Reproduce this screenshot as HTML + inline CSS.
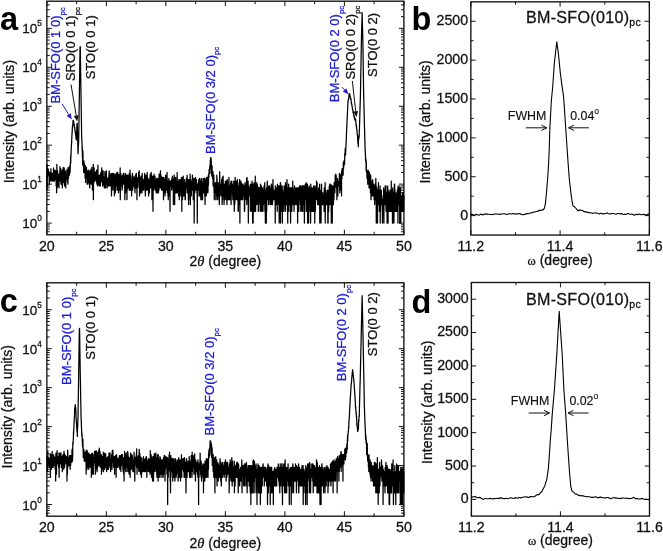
<!DOCTYPE html>
<html lang="en">
<head>
<meta charset="utf-8">
<title>XRD figure</title>
<style>
html,body{margin:0;padding:0;background:#fff;}
body{width:663px;height:551px;overflow:hidden;font-family:"Liberation Sans", sans-serif;}
svg{display:block;will-change:transform;}
</style>
</head>
<body>
<svg width="663" height="551" viewBox="0 0 663 551" role="img" aria-label="XRD theta-2theta scans and rocking curves">
<rect width="663" height="551" fill="#fff"/>
<rect x="46.85" y="1.2" width="357.05" height="233.55" fill="none" stroke="#111" stroke-width="1.35"/>
<path d="M46.85 234.75L46.85 229.75M46.85 1.2L46.85 6.2M76.6 234.75L76.6 231.75M76.6 1.2L76.6 4.2M106.36 234.75L106.36 229.75M106.36 1.2L106.36 6.2M136.11 234.75L136.11 231.75M136.11 1.2L136.11 4.2M165.87 234.75L165.87 229.75M165.87 1.2L165.87 6.2M195.62 234.75L195.62 231.75M195.62 1.2L195.62 4.2M225.37 234.75L225.37 229.75M225.37 1.2L225.37 6.2M255.13 234.75L255.13 231.75M255.13 1.2L255.13 4.2M284.88 234.75L284.88 229.75M284.88 1.2L284.88 6.2M314.64 234.75L314.64 231.75M314.64 1.2L314.64 4.2M344.39 234.75L344.39 229.75M344.39 1.2L344.39 6.2M374.15 234.75L374.15 231.75M374.15 1.2L374.15 4.2M403.9 234.75L403.9 229.75M403.9 1.2L403.9 6.2M46.85 231.74L49.75 231.74M403.9 231.74L401 231.74M46.85 229.13L49.75 229.13M403.9 229.13L401 229.13M46.85 226.87L49.75 226.87M403.9 226.87L401 226.87M46.85 224.88L49.75 224.88M403.9 224.88L401 224.88M46.85 223.1L51.85 223.1M403.9 223.1L398.9 223.1M46.85 211.37L49.75 211.37M403.9 211.37L401 211.37M46.85 204.52L49.75 204.52M403.9 204.52L401 204.52M46.85 199.65L49.75 199.65M403.9 199.65L401 199.65M46.85 195.88L49.75 195.88M403.9 195.88L401 195.88M46.85 192.79L49.75 192.79M403.9 192.79L401 192.79M46.85 190.18L49.75 190.18M403.9 190.18L401 190.18M46.85 187.92L49.75 187.92M403.9 187.92L401 187.92M46.85 185.93L49.75 185.93M403.9 185.93L401 185.93M46.85 184.15L51.85 184.15M403.9 184.15L398.9 184.15M46.85 172.42L49.75 172.42M403.9 172.42L401 172.42M46.85 165.57L49.75 165.57M403.9 165.57L401 165.57M46.85 160.7L49.75 160.7M403.9 160.7L401 160.7M46.85 156.93L49.75 156.93M403.9 156.93L401 156.93M46.85 153.84L49.75 153.84M403.9 153.84L401 153.84M46.85 151.23L49.75 151.23M403.9 151.23L401 151.23M46.85 148.97L49.75 148.97M403.9 148.97L401 148.97M46.85 146.98L49.75 146.98M403.9 146.98L401 146.98M46.85 145.2L51.85 145.2M403.9 145.2L398.9 145.2M46.85 133.47L49.75 133.47M403.9 133.47L401 133.47M46.85 126.62L49.75 126.62M403.9 126.62L401 126.62M46.85 121.75L49.75 121.75M403.9 121.75L401 121.75M46.85 117.98L49.75 117.98M403.9 117.98L401 117.98M46.85 114.89L49.75 114.89M403.9 114.89L401 114.89M46.85 112.28L49.75 112.28M403.9 112.28L401 112.28M46.85 110.02L49.75 110.02M403.9 110.02L401 110.02M46.85 108.03L49.75 108.03M403.9 108.03L401 108.03M46.85 106.25L51.85 106.25M403.9 106.25L398.9 106.25M46.85 94.52L49.75 94.52M403.9 94.52L401 94.52M46.85 87.67L49.75 87.67M403.9 87.67L401 87.67M46.85 82.8L49.75 82.8M403.9 82.8L401 82.8M46.85 79.03L49.75 79.03M403.9 79.03L401 79.03M46.85 75.94L49.75 75.94M403.9 75.94L401 75.94M46.85 73.33L49.75 73.33M403.9 73.33L401 73.33M46.85 71.07L49.75 71.07M403.9 71.07L401 71.07M46.85 69.08L49.75 69.08M403.9 69.08L401 69.08M46.85 67.3L51.85 67.3M403.9 67.3L398.9 67.3M46.85 55.57L49.75 55.57M403.9 55.57L401 55.57M46.85 48.72L49.75 48.72M403.9 48.72L401 48.72M46.85 43.85L49.75 43.85M403.9 43.85L401 43.85M46.85 40.08L49.75 40.08M403.9 40.08L401 40.08M46.85 36.99L49.75 36.99M403.9 36.99L401 36.99M46.85 34.38L49.75 34.38M403.9 34.38L401 34.38M46.85 32.12L49.75 32.12M403.9 32.12L401 32.12M46.85 30.13L49.75 30.13M403.9 30.13L401 30.13M46.85 28.35L51.85 28.35M403.9 28.35L398.9 28.35M46.85 16.62L49.75 16.62M403.9 16.62L401 16.62M46.85 9.77L49.75 9.77M403.9 9.77L401 9.77M46.85 4.9L49.75 4.9M403.9 4.9L401 4.9" stroke="#111" stroke-width="1.0" fill="none"/>
<text x="46.85" y="250.85" font-family='"Liberation Sans", sans-serif' font-size="14.2" text-anchor="middle" fill="#111" font-weight="normal" stroke="#111" stroke-width="0.28">20</text>
<text x="106.36" y="250.85" font-family='"Liberation Sans", sans-serif' font-size="14.2" text-anchor="middle" fill="#111" font-weight="normal" stroke="#111" stroke-width="0.28">25</text>
<text x="165.87" y="250.85" font-family='"Liberation Sans", sans-serif' font-size="14.2" text-anchor="middle" fill="#111" font-weight="normal" stroke="#111" stroke-width="0.28">30</text>
<text x="225.37" y="250.85" font-family='"Liberation Sans", sans-serif' font-size="14.2" text-anchor="middle" fill="#111" font-weight="normal" stroke="#111" stroke-width="0.28">35</text>
<text x="284.88" y="250.85" font-family='"Liberation Sans", sans-serif' font-size="14.2" text-anchor="middle" fill="#111" font-weight="normal" stroke="#111" stroke-width="0.28">40</text>
<text x="344.39" y="250.85" font-family='"Liberation Sans", sans-serif' font-size="14.2" text-anchor="middle" fill="#111" font-weight="normal" stroke="#111" stroke-width="0.28">45</text>
<text x="403.9" y="250.85" font-family='"Liberation Sans", sans-serif' font-size="14.2" text-anchor="middle" fill="#111" font-weight="normal" stroke="#111" stroke-width="0.28">50</text>
<text x="41.9" y="227.9" font-family='"Liberation Sans", sans-serif' font-size="13.5" text-anchor="end" fill="#111" stroke="#111" stroke-width="0.28">10<tspan font-size="8.2" dy="-7.2">0</tspan></text>
<text x="41.9" y="188.95" font-family='"Liberation Sans", sans-serif' font-size="13.5" text-anchor="end" fill="#111" stroke="#111" stroke-width="0.28">10<tspan font-size="8.2" dy="-7.2">1</tspan></text>
<text x="41.9" y="150" font-family='"Liberation Sans", sans-serif' font-size="13.5" text-anchor="end" fill="#111" stroke="#111" stroke-width="0.28">10<tspan font-size="8.2" dy="-7.2">2</tspan></text>
<text x="41.9" y="111.05" font-family='"Liberation Sans", sans-serif' font-size="13.5" text-anchor="end" fill="#111" stroke="#111" stroke-width="0.28">10<tspan font-size="8.2" dy="-7.2">3</tspan></text>
<text x="41.9" y="72.1" font-family='"Liberation Sans", sans-serif' font-size="13.5" text-anchor="end" fill="#111" stroke="#111" stroke-width="0.28">10<tspan font-size="8.2" dy="-7.2">4</tspan></text>
<text x="41.9" y="33.15" font-family='"Liberation Sans", sans-serif' font-size="13.5" text-anchor="end" fill="#111" stroke="#111" stroke-width="0.28">10<tspan font-size="8.2" dy="-7.2">5</tspan></text>
<text x="13.6" y="121.6" font-family='"Liberation Sans", sans-serif' font-size="14.05" text-anchor="middle" fill="#111" font-weight="normal" transform="rotate(-90 13.6 121.6)" stroke="#111" stroke-width="0.28">Intensity (arb. units)</text>
<text x="225.38" y="266.35" font-family='"Liberation Sans", sans-serif' font-size="14" text-anchor="middle" fill="#111" stroke="#111" stroke-width="0.28">2<tspan font-family='"Liberation Serif", "DejaVu Serif", serif' font-style="italic" font-size="14.5">θ</tspan> (degree)</text>
<path d="M46.85 172.42L46.97 190.18L47.09 164.47L47.21 185.93L47.33 173.29L47.45 176.2L47.56 170.06L47.68 176.2L47.8 174.21L47.92 175.17L48.04 168.65L48.16 174.21L48.28 169.34L48.4 174.21L48.52 170.81L48.64 174.21L48.75 172.42L48.87 171.6L48.99 174.21L49.11 175.17L49.23 184.15L49.35 184.15L49.47 172.42L49.59 176.2L49.71 178.46L49.83 179.71L49.94 176.2L50.06 181.07L50.18 173.29L50.3 178.46L50.42 176.2L50.54 173.29L50.66 175.17L50.78 177.29L50.9 168.65L51.02 181.07L51.13 172.42L51.25 172.42L51.37 173.29L51.49 173.29L51.61 177.29L51.73 174.21L51.85 176.2L51.97 179.71L52.09 173.29L52.21 177.29L52.32 181.07L52.44 176.2L52.56 176.2L52.68 181.07L52.8 174.21L52.92 173.29L53.04 175.17L53.16 176.2L53.28 176.2L53.4 175.17L53.51 167.99L53.63 173.29L53.75 181.07L53.87 170.06L53.99 181.07L54.11 179.71L54.23 172.42L54.35 181.07L54.47 177.29L54.59 178.46L54.71 175.17L54.82 172.42L54.94 179.71L55.06 170.06L55.18 174.21L55.3 171.6L55.42 170.81L55.54 173.29L55.66 173.29L55.78 172.42L55.9 172.42L56.01 171.6L56.13 185.93L56.25 179.71L56.37 173.29L56.49 174.21L56.61 192.79L56.73 176.2L56.85 164.47L56.97 174.21L57.09 178.46L57.2 187.92L57.32 170.06L57.44 170.06L57.56 171.6L57.68 177.29L57.8 184.15L57.92 174.21L58.04 174.21L58.16 175.17L58.28 185.93L58.39 179.71L58.51 176.2L58.63 179.71L58.75 176.2L58.87 174.21L58.99 187.92L59.11 174.21L59.23 176.2L59.35 179.71L59.47 179.71L59.58 174.21L59.7 181.07L59.82 177.29L59.94 166.73L60.06 174.21L60.18 174.21L60.3 181.07L60.42 172.42L60.54 173.29L60.66 170.81L60.77 168.65L60.89 172.42L61.01 184.15L61.13 177.29L61.25 184.15L61.37 174.21L61.49 175.17L61.61 175.17L61.73 177.29L61.85 177.29L61.97 170.81L62.08 173.29L62.2 174.21L62.32 187.92L62.44 178.46L62.56 175.17L62.68 169.34L62.8 171.6L62.92 174.21L63.04 174.21L63.16 173.29L63.27 167.35L63.39 179.71L63.51 182.54L63.63 181.07L63.75 175.17L63.87 176.2L63.99 171.6L64.11 171.6L64.23 167.99L64.35 176.2L64.46 185.93L64.58 184.15L64.7 171.6L64.82 175.17L64.94 179.71L65.06 171.6L65.18 179.71L65.3 178.46L65.42 171.6L65.54 170.81L65.65 174.21L65.77 187.92L65.89 177.29L66.01 182.54L66.13 175.17L66.25 176.2L66.37 178.46L66.49 175.17L66.61 174.21L66.73 176.2L66.84 179.71L66.96 174.21L67.08 169.34L67.2 170.06L67.32 174.21L67.44 177.29L67.56 174.21L67.68 179.71L67.8 182.54L67.92 184.15L68.03 173.29L68.15 169.34L68.27 167.35L68.39 170.06L68.51 178.46L68.63 167.99L68.75 172.42L68.87 170.06L68.99 171.6L69.11 173.29L69.23 168.65L69.34 170.06L69.46 175.17L69.58 170.81L69.7 166.14L69.82 165.57L69.94 170.81L70.06 172.42L70.18 168.65L70.3 163.95L70.42 164.47L70.53 159.87L70.65 156.59L70.77 162.96L70.89 153.84L71.01 155.94L71.13 151.48L71.25 149.19L71.37 146.07L71.49 143.59L71.61 142.98L71.72 139.03L71.84 138.23L71.96 133.39L72.08 133.99L72.2 130.82L72.32 128.59L72.44 126.56L72.56 125.95L72.68 125.58L72.8 125.63L72.91 123.3L73.03 120.61L73.15 120.33L73.27 121.5L73.39 120.68L73.51 120.92L73.63 121.09L73.75 124.9L73.87 123.96L73.99 123.3L74.1 125.84L74.22 124.6L74.34 127.72L74.46 126.34L74.58 127.07L74.7 127.31L74.82 129.7L74.94 130.04L75.06 129.77L75.18 131.94L75.29 132.81L75.41 132.73L75.53 133.56L75.65 132.89L75.77 136.03L75.89 135.93L76.01 139.03L76.13 136.32L76.25 138.91L76.37 140L76.49 137.14L76.6 133.06L76.72 130.82L76.84 125.74L76.96 124.75L77.08 124.2L77.2 123.16L77.32 126.12L77.44 130.89L77.56 133.9L77.68 135.35L77.79 143.28L77.91 147.95L78.03 153.84L78.15 151.48L78.27 147.75L78.39 144.21L78.51 144.7L78.63 141.56L78.75 137.25L78.87 127.97L78.98 121.88L79.1 112.28L79.22 104.39L79.34 96.36L79.46 88.13L79.58 79.32L79.7 71.11L79.82 63.02L79.94 54.79L80.06 46.63L80.17 46.68L80.29 46.63L80.41 54.78L80.53 63.04L80.65 71.28L80.77 79.47L80.89 87.89L81.01 95.4L81.13 102.42L81.25 109.5L81.36 117.87L81.48 124.8L81.6 134.52L81.72 138.34L81.84 140.76L81.96 141.84L82.08 145.72L82.2 151.23L82.32 147.95L82.44 157.97L82.56 156.26L82.67 165.01L82.79 155.94L82.91 150.99L83.03 159.09L83.15 163.45L83.27 166.14L83.39 161.13L83.51 165.01L83.63 172.42L83.75 165.01L83.86 166.14L83.98 161.13L84.1 169.34L84.22 168.65L84.34 163.95L84.46 170.06L84.58 172.42L84.7 166.14L84.82 170.06L84.94 174.21L85.05 167.35L85.17 178.46L85.29 170.81L85.41 165.57L85.53 170.06L85.65 182.54L85.77 176.2L85.89 177.29L86.01 168.65L86.13 176.2L86.24 170.81L86.36 170.06L86.48 167.35L86.6 177.29L86.72 173.29L86.84 170.06L86.96 172.42L87.08 174.21L87.2 184.15L87.32 173.29L87.43 170.81L87.55 179.71L87.67 177.29L87.79 175.17L87.91 182.54L88.03 184.15L88.15 174.21L88.27 174.21L88.39 174.21L88.51 170.06L88.62 175.17L88.74 181.07L88.86 176.2L88.98 181.07L89.1 182.54L89.22 172.42L89.34 179.71L89.46 175.17L89.58 181.07L89.7 187.92L89.82 178.46L89.93 170.81L90.05 177.29L90.17 176.2L90.29 175.17L90.41 179.71L90.53 173.29L90.65 182.54L90.77 175.17L90.89 169.34L91.01 178.46L91.12 184.15L91.24 181.07L91.36 177.29L91.48 178.46L91.6 173.29L91.72 178.46L91.84 167.35L91.96 179.71L92.08 175.17L92.2 174.21L92.31 181.07L92.43 190.18L92.55 176.2L92.67 175.17L92.79 173.29L92.91 177.29L93.03 175.17L93.15 179.71L93.27 164.47L93.39 199.65L93.5 184.15L93.62 182.54L93.74 177.29L93.86 182.54L93.98 175.17L94.1 167.99L94.22 181.07L94.34 179.71L94.46 179.71L94.58 175.17L94.69 179.71L94.81 176.2L94.93 181.07L95.05 179.71L95.17 172.42L95.29 179.71L95.41 172.42L95.53 178.46L95.65 179.71L95.77 175.17L95.88 174.21L96 171.6L96.12 176.2L96.24 178.46L96.36 181.07L96.48 171.6L96.6 170.06L96.72 181.07L96.84 184.15L96.96 179.71L97.08 173.29L97.19 172.42L97.31 178.46L97.43 175.17L97.55 176.2L97.67 185.93L97.79 174.21L97.91 165.01L98.03 182.54L98.15 175.17L98.27 177.29L98.38 181.07L98.5 184.15L98.62 179.71L98.74 176.2L98.86 179.71L98.98 177.29L99.1 182.54L99.22 185.93L99.34 178.46L99.46 175.17L99.57 181.07L99.69 181.07L99.81 178.46L99.93 179.71L100.05 178.46L100.17 182.54L100.29 185.93L100.41 181.07L100.53 174.21L100.65 177.29L100.76 179.71L100.88 172.42L101 177.29L101.12 176.2L101.24 176.2L101.36 181.07L101.48 174.21L101.6 177.29L101.72 167.99L101.84 176.2L101.95 172.42L102.07 182.54L102.19 179.71L102.31 174.21L102.43 181.07L102.55 185.93L102.67 170.81L102.79 185.93L102.91 185.93L103.03 181.07L103.14 170.81L103.26 184.15L103.38 176.2L103.5 178.46L103.62 179.71L103.74 177.29L103.86 177.29L103.98 182.54L104.1 177.29L104.22 178.46L104.34 187.92L104.45 187.92L104.57 187.92L104.69 185.93L104.81 181.07L104.93 171.6L105.05 175.17L105.17 178.46L105.29 181.07L105.41 174.21L105.53 176.2L105.64 187.92L105.76 182.54L105.88 184.15L106 174.21L106.12 179.71L106.24 172.42L106.36 170.81L106.48 181.07L106.6 176.2L106.72 182.54L106.83 177.29L106.95 179.71L107.07 181.07L107.19 187.92L107.31 178.46L107.43 184.15L107.55 185.93L107.67 179.71L107.79 179.71L107.91 184.15L108.02 181.07L108.14 185.93L108.26 178.46L108.38 178.46L108.5 178.46L108.62 179.71L108.74 177.29L108.86 177.29L108.98 173.29L109.1 174.21L109.21 170.81L109.33 185.93L109.45 182.54L109.57 175.17L109.69 178.46L109.81 177.29L109.93 181.07L110.05 184.15L110.17 175.17L110.29 182.54L110.4 179.71L110.52 185.93L110.64 181.07L110.76 175.17L110.88 174.21L111 173.29L111.12 179.71L111.24 176.2L111.36 176.2L111.48 195.88L111.6 182.54L111.71 175.17L111.83 176.2L111.95 182.54L112.07 178.46L112.19 181.07L112.31 173.29L112.43 179.71L112.55 177.29L112.67 187.92L112.79 175.17L112.9 190.18L113.02 178.46L113.14 176.2L113.26 175.17L113.38 184.15L113.5 173.29L113.62 184.15L113.74 181.07L113.86 177.29L113.98 182.54L114.09 181.07L114.21 185.93L114.33 187.92L114.45 195.88L114.57 185.93L114.69 177.29L114.81 174.21L114.93 185.93L115.05 185.93L115.17 181.07L115.28 192.79L115.4 185.93L115.52 174.21L115.64 174.21L115.76 190.18L115.88 182.54L116 176.2L116.12 185.93L116.24 177.29L116.36 178.46L116.47 184.15L116.59 176.2L116.71 185.93L116.83 172.42L116.95 184.15L117.07 178.46L117.19 185.93L117.31 175.17L117.43 190.18L117.55 179.71L117.66 172.42L117.78 174.21L117.9 178.46L118.02 179.71L118.14 177.29L118.26 174.21L118.38 179.71L118.5 192.79L118.62 176.2L118.74 178.46L118.86 177.29L118.97 182.54L119.09 175.17L119.21 184.15L119.33 184.15L119.45 182.54L119.57 184.15L119.69 190.18L119.81 174.21L119.93 182.54L120.05 178.46L120.16 167.99L120.28 199.65L120.4 181.07L120.52 184.15L120.64 181.07L120.76 173.29L120.88 177.29L121 181.07L121.12 181.07L121.24 181.07L121.35 185.93L121.47 179.71L121.59 176.2L121.71 181.07L121.83 181.07L121.95 184.15L122.07 190.18L122.19 179.71L122.31 187.92L122.43 187.92L122.54 176.2L122.66 175.17L122.78 177.29L122.9 179.71L123.02 178.46L123.14 182.54L123.26 184.15L123.38 173.29L123.5 182.54L123.62 173.29L123.73 177.29L123.85 182.54L123.97 184.15L124.09 184.15L124.21 178.46L124.33 178.46L124.45 179.71L124.57 181.07L124.69 178.46L124.81 199.65L124.92 185.93L125.04 175.17L125.16 182.54L125.28 173.29L125.4 181.07L125.52 192.79L125.64 187.92L125.76 174.21L125.88 187.92L126 184.15L126.12 177.29L126.23 187.92L126.35 182.54L126.47 179.71L126.59 178.46L126.71 187.92L126.83 184.15L126.95 199.65L127.07 175.17L127.19 190.18L127.31 176.2L127.42 187.92L127.54 179.71L127.66 177.29L127.78 177.29L127.9 178.46L128.02 175.17L128.14 182.54L128.26 178.46L128.38 184.15L128.5 187.92L128.61 182.54L128.73 187.92L128.85 182.54L128.97 177.29L129.09 178.46L129.21 190.18L129.33 173.29L129.45 184.15L129.57 184.15L129.69 187.92L129.8 178.46L129.92 181.07L130.04 170.06L130.16 184.15L130.28 190.18L130.4 175.17L130.52 181.07L130.64 181.07L130.76 176.2L130.88 184.15L130.99 190.18L131.11 184.15L131.23 182.54L131.35 179.71L131.47 182.54L131.59 195.88L131.71 187.92L131.83 184.15L131.95 187.92L132.07 182.54L132.18 184.15L132.3 177.29L132.42 173.29L132.54 177.29L132.66 190.18L132.78 185.93L132.9 178.46L133.02 184.15L133.14 179.71L133.26 184.15L133.38 178.46L133.49 185.93L133.61 177.29L133.73 184.15L133.85 179.71L133.97 182.54L134.09 176.2L134.21 181.07L134.33 177.29L134.45 187.92L134.57 178.46L134.68 181.07L134.8 184.15L134.92 185.93L135.04 192.79L135.16 179.71L135.28 181.07L135.4 181.07L135.52 181.07L135.64 184.15L135.76 174.21L135.87 187.92L135.99 184.15L136.11 174.21L136.23 184.15L136.35 173.29L136.47 185.93L136.59 181.07L136.71 177.29L136.83 178.46L136.95 199.65L137.06 182.54L137.18 182.54L137.3 187.92L137.42 182.54L137.54 185.93L137.66 178.46L137.78 182.54L137.9 181.07L138.02 182.54L138.14 177.29L138.25 181.07L138.37 177.29L138.49 177.29L138.61 172.42L138.73 178.46L138.85 182.54L138.97 175.17L139.09 187.92L139.21 170.81L139.33 185.93L139.44 175.17L139.56 195.88L139.68 185.93L139.8 177.29L139.92 179.71L140.04 185.93L140.16 179.71L140.28 182.54L140.4 192.79L140.52 177.29L140.64 179.71L140.75 184.15L140.87 192.79L140.99 192.79L141.11 176.2L141.23 179.71L141.35 185.93L141.47 182.54L141.59 190.18L141.71 179.71L141.83 179.71L141.94 192.79L142.06 184.15L142.18 173.29L142.3 184.15L142.42 179.71L142.54 178.46L142.66 182.54L142.78 187.92L142.9 182.54L143.02 184.15L143.13 179.71L143.25 190.18L143.37 182.54L143.49 185.93L143.61 182.54L143.73 190.18L143.85 179.71L143.97 182.54L144.09 185.93L144.21 184.15L144.32 179.71L144.44 185.93L144.56 174.21L144.68 173.29L144.8 184.15L144.92 179.71L145.04 185.93L145.16 190.18L145.28 192.79L145.4 195.88L145.51 185.93L145.63 187.92L145.75 184.15L145.87 184.15L145.99 175.17L146.11 190.18L146.23 187.92L146.35 190.18L146.47 184.15L146.59 190.18L146.7 176.2L146.82 175.17L146.94 184.15L147.06 179.71L147.18 172.42L147.3 179.71L147.42 190.18L147.54 178.46L147.66 182.54L147.78 190.18L147.9 181.07L148.01 178.46L148.13 185.93L148.25 182.54L148.37 187.92L148.49 184.15L148.61 195.88L148.73 192.79L148.85 179.71L148.97 185.93L149.09 190.18L149.2 185.93L149.32 182.54L149.44 192.79L149.56 182.54L149.68 179.71L149.8 181.07L149.92 177.29L150.04 185.93L150.16 177.29L150.28 174.21L150.39 182.54L150.51 187.92L150.63 181.07L150.75 187.92L150.87 178.46L150.99 185.93L151.11 174.21L151.23 172.42L151.35 175.17L151.47 177.29L151.58 187.92L151.7 176.2L151.82 185.93L151.94 199.65L152.06 181.07L152.18 185.93L152.3 182.54L152.42 187.92L152.54 182.54L152.66 182.54L152.77 176.2L152.89 185.93L153.01 211.37L153.13 179.71L153.25 182.54L153.37 179.71L153.49 178.46L153.61 190.18L153.73 176.2L153.85 187.92L153.97 181.07L154.08 174.21L154.2 184.15L154.32 181.07L154.44 182.54L154.56 182.54L154.68 187.92L154.8 184.15L154.92 185.93L155.04 176.2L155.16 185.93L155.27 190.18L155.39 179.71L155.51 187.92L155.63 185.93L155.75 185.93L155.87 181.07L155.99 190.18L156.11 190.18L156.23 192.79L156.35 190.18L156.46 190.18L156.58 181.07L156.7 178.46L156.82 187.92L156.94 192.79L157.06 187.92L157.18 181.07L157.3 187.92L157.42 190.18L157.54 192.79L157.65 179.71L157.77 178.46L157.89 190.18L158.01 184.15L158.13 182.54L158.25 190.18L158.37 184.15L158.49 192.79L158.61 182.54L158.73 190.18L158.84 185.93L158.96 190.18L159.08 174.21L159.2 181.07L159.32 182.54L159.44 187.92L159.56 179.71L159.68 187.92L159.8 185.93L159.92 178.46L160.03 176.2L160.15 177.29L160.27 172.42L160.39 187.92L160.51 170.81L160.63 184.15L160.75 184.15L160.87 181.07L160.99 181.07L161.11 184.15L161.23 184.15L161.34 179.71L161.46 176.2L161.58 190.18L161.7 178.46L161.82 178.46L161.94 190.18L162.06 179.71L162.18 182.54L162.3 184.15L162.42 190.18L162.53 179.71L162.65 181.07L162.77 177.29L162.89 187.92L163.01 181.07L163.13 179.71L163.25 190.18L163.37 187.92L163.49 199.65L163.61 187.92L163.72 192.79L163.84 184.15L163.96 177.29L164.08 181.07L164.2 184.15L164.32 179.71L164.44 187.92L164.56 179.71L164.68 185.93L164.8 187.92L164.91 187.92L165.03 195.88L165.15 184.15L165.27 184.15L165.39 185.93L165.51 192.79L165.63 175.17L165.75 185.93L165.87 181.07L165.99 179.71L166.1 179.71L166.22 182.54L166.34 179.71L166.46 187.92L166.58 181.07L166.7 190.18L166.82 178.46L166.94 182.54L167.06 172.42L167.18 181.07L167.29 185.93L167.41 192.79L167.53 190.18L167.65 181.07L167.77 187.92L167.89 192.79L168.01 195.88L168.13 181.07L168.25 199.65L168.37 192.79L168.49 181.07L168.6 185.93L168.72 192.79L168.84 178.46L168.96 181.07L169.08 181.07L169.2 184.15L169.32 195.88L169.44 195.88L169.56 181.07L169.68 185.93L169.79 185.93L169.91 184.15L170.03 211.37L170.15 185.93L170.27 181.07L170.39 182.54L170.51 185.93L170.63 185.93L170.75 181.07L170.87 185.93L170.98 182.54L171.1 184.15L171.22 185.93L171.34 184.15L171.46 181.07L171.58 179.71L171.7 190.18L171.82 187.92L171.94 178.46L172.06 184.15L172.17 181.07L172.29 181.07L172.41 176.2L172.53 178.46L172.65 184.15L172.77 182.54L172.89 179.71L173.01 187.92L173.13 179.71L173.25 179.71L173.36 204.52L173.48 185.93L173.6 187.92L173.72 181.07L173.84 187.92L173.96 190.18L174.08 176.2L174.2 175.17L174.32 190.18L174.44 187.92L174.55 177.29L174.67 204.52L174.79 182.54L174.91 190.18L175.03 179.71L175.15 192.79L175.27 179.71L175.39 179.71L175.51 184.15L175.63 177.29L175.75 177.29L175.86 190.18L175.98 192.79L176.1 181.07L176.22 185.93L176.34 190.18L176.46 185.93L176.58 190.18L176.7 184.15L176.82 185.93L176.94 181.07L177.05 192.79L177.17 172.42L177.29 192.79L177.41 192.79L177.53 181.07L177.65 190.18L177.77 182.54L177.89 190.18L178.01 190.18L178.13 190.18L178.24 190.18L178.36 187.92L178.48 184.15L178.6 195.88L178.72 185.93L178.84 179.71L178.96 192.79L179.08 182.54L179.2 190.18L179.32 199.65L179.43 190.18L179.55 187.92L179.67 185.93L179.79 185.93L179.91 179.71L180.03 184.15L180.15 181.07L180.27 182.54L180.39 192.79L180.51 190.18L180.62 185.93L180.74 179.71L180.86 195.88L180.98 185.93L181.1 192.79L181.22 187.92L181.34 182.54L181.46 177.29L181.58 185.93L181.7 187.92L181.81 211.37L181.93 181.07L182.05 184.15L182.17 187.92L182.29 181.07L182.41 179.71L182.53 199.65L182.65 179.71L182.77 177.29L182.89 181.07L183.01 185.93L183.12 181.07L183.24 176.2L183.36 187.92L183.48 195.88L183.6 195.88L183.72 190.18L183.84 190.18L183.96 187.92L184.08 184.15L184.2 195.88L184.31 187.92L184.43 182.54L184.55 179.71L184.67 184.15L184.79 182.54L184.91 195.88L185.03 192.79L185.15 199.65L185.27 199.65L185.39 199.65L185.5 190.18L185.62 192.79L185.74 185.93L185.86 184.15L185.98 185.93L186.1 182.54L186.22 185.93L186.34 178.46L186.46 187.92L186.58 179.71L186.69 181.07L186.81 181.07L186.93 182.54L187.05 182.54L187.17 175.17L187.29 192.79L187.41 182.54L187.53 179.71L187.65 179.71L187.77 192.79L187.88 192.79L188 182.54L188.12 187.92L188.24 185.93L188.36 199.65L188.48 187.92L188.6 204.52L188.72 179.71L188.84 179.71L188.96 192.79L189.07 179.71L189.19 192.79L189.31 185.93L189.43 184.15L189.55 187.92L189.67 187.92L189.79 185.93L189.91 184.15L190.03 199.65L190.15 174.21L190.27 184.15L190.38 204.52L190.5 179.71L190.62 190.18L190.74 187.92L190.86 185.93L190.98 185.93L191.1 185.93L191.22 187.92L191.34 195.88L191.46 185.93L191.57 181.07L191.69 182.54L191.81 181.07L191.93 190.18L192.05 179.71L192.17 184.15L192.29 182.54L192.41 175.17L192.53 177.29L192.65 184.15L192.76 181.07L192.88 187.92L193 187.92L193.12 187.92L193.24 199.65L193.36 184.15L193.48 195.88L193.6 199.65L193.72 178.46L193.84 178.46L193.95 182.54L194.07 182.54L194.19 223.1L194.31 187.92L194.43 192.79L194.55 179.71L194.67 192.79L194.79 179.71L194.91 192.79L195.03 178.46L195.14 184.15L195.26 190.18L195.38 185.93L195.5 177.29L195.62 184.15L195.74 181.07L195.86 185.93L195.98 190.18L196.1 182.54L196.22 182.54L196.33 181.07L196.45 179.71L196.57 187.92L196.69 184.15L196.81 190.18L196.93 187.92L197.05 192.79L197.17 195.88L197.29 223.1L197.41 192.79L197.53 184.15L197.64 184.15L197.76 187.92L197.88 190.18L198 190.18L198.12 187.92L198.24 187.92L198.36 182.54L198.48 185.93L198.6 187.92L198.72 179.71L198.83 190.18L198.95 184.15L199.07 195.88L199.19 192.79L199.31 190.18L199.43 187.92L199.55 178.46L199.67 181.07L199.79 182.54L199.91 187.92L200.02 195.88L200.14 192.79L200.26 184.15L200.38 187.92L200.5 181.07L200.62 190.18L200.74 181.07L200.86 199.65L200.98 184.15L201.1 187.92L201.21 179.71L201.33 178.46L201.45 187.92L201.57 199.65L201.69 185.93L201.81 190.18L201.93 184.15L202.05 195.88L202.17 184.15L202.29 185.93L202.4 182.54L202.52 199.65L202.64 192.79L202.76 185.93L202.88 185.93L203 181.07L203.12 178.46L203.24 182.54L203.36 185.93L203.48 185.93L203.59 192.79L203.71 190.18L203.83 187.92L203.95 179.71L204.07 187.92L204.19 187.92L204.31 178.46L204.43 181.07L204.55 178.46L204.67 190.18L204.79 195.88L204.9 178.46L205.02 204.52L205.14 187.92L205.26 185.93L205.38 179.71L205.5 187.92L205.62 192.79L205.74 187.92L205.86 187.92L205.98 195.88L206.09 185.93L206.21 195.88L206.33 195.88L206.45 192.79L206.57 177.29L206.69 184.15L206.81 192.79L206.93 187.92L207.05 182.54L207.17 187.92L207.28 185.93L207.4 178.46L207.52 181.07L207.64 177.29L207.76 185.93L207.88 192.79L208 190.18L208.12 177.29L208.24 185.93L208.36 175.17L208.47 184.15L208.59 178.46L208.71 176.2L208.83 173.29L208.95 177.29L209.07 172.42L209.19 169.34L209.31 169.34L209.43 170.06L209.55 169.34L209.66 167.99L209.78 167.35L209.9 165.57L210.02 173.29L210.14 167.35L210.26 160.7L210.38 162.48L210.5 159.87L210.62 158.34L210.74 157.97L210.85 157.27L210.97 164.47L211.09 162.48L211.21 159.48L211.33 165.57L211.45 168.65L211.57 168.65L211.69 174.21L211.81 176.2L211.93 173.29L212.05 165.57L212.16 168.65L212.28 175.17L212.4 173.29L212.52 178.46L212.64 174.21L212.76 176.2L212.88 173.29L213 171.6L213.12 185.93L213.24 179.71L213.35 185.93L213.47 179.71L213.59 179.71L213.71 185.93L213.83 175.17L213.95 184.15L214.07 192.79L214.19 184.15L214.31 199.65L214.43 184.15L214.54 185.93L214.66 190.18L214.78 185.93L214.9 184.15L215.02 187.92L215.14 192.79L215.26 184.15L215.38 182.54L215.5 185.93L215.62 192.79L215.73 190.18L215.85 199.65L215.97 185.93L216.09 185.93L216.21 184.15L216.33 184.15L216.45 195.88L216.57 195.88L216.69 187.92L216.81 175.17L216.92 185.93L217.04 178.46L217.16 185.93L217.28 192.79L217.4 199.65L217.52 182.54L217.64 182.54L217.76 182.54L217.88 195.88L218 185.93L218.11 182.54L218.23 187.92L218.35 185.93L218.47 187.92L218.59 192.79L218.71 190.18L218.83 195.88L218.95 199.65L219.07 185.93L219.19 190.18L219.31 204.52L219.42 190.18L219.54 185.93L219.66 171.6L219.78 184.15L219.9 184.15L220.02 185.93L220.14 185.93L220.26 195.88L220.38 185.93L220.5 185.93L220.61 187.92L220.73 187.92L220.85 184.15L220.97 184.15L221.09 185.93L221.21 187.92L221.33 185.93L221.45 187.92L221.57 179.71L221.69 195.88L221.8 184.15L221.92 195.88L222.04 184.15L222.16 204.52L222.28 185.93L222.4 177.29L222.52 185.93L222.64 199.65L222.76 192.79L222.88 195.88L222.99 185.93L223.11 176.2L223.23 182.54L223.35 192.79L223.47 184.15L223.59 195.88L223.71 192.79L223.83 190.18L223.95 184.15L224.07 204.52L224.18 190.18L224.3 187.92L224.42 195.88L224.54 190.18L224.66 184.15L224.78 192.79L224.9 192.79L225.02 195.88L225.14 185.93L225.26 199.65L225.38 181.07L225.49 184.15L225.61 192.79L225.73 185.93L225.85 184.15L225.97 187.92L226.09 187.92L226.21 185.93L226.33 181.07L226.45 185.93L226.57 195.88L226.68 199.65L226.8 192.79L226.92 204.52L227.04 199.65L227.16 185.93L227.28 179.71L227.4 195.88L227.52 181.07L227.64 195.88L227.76 190.18L227.87 192.79L227.99 199.65L228.11 190.18L228.23 185.93L228.35 199.65L228.47 192.79L228.59 195.88L228.71 192.79L228.83 199.65L228.95 177.29L229.06 199.65L229.18 184.15L229.3 195.88L229.42 195.88L229.54 185.93L229.66 187.92L229.78 190.18L229.9 187.92L230.02 199.65L230.14 185.93L230.25 195.88L230.37 185.93L230.49 187.92L230.61 187.92L230.73 182.54L230.85 199.65L230.97 181.07L231.09 204.52L231.21 195.88L231.33 190.18L231.44 190.18L231.56 192.79L231.68 185.93L231.8 181.07L231.92 187.92L232.04 192.79L232.16 185.93L232.28 190.18L232.4 184.15L232.52 190.18L232.64 195.88L232.75 187.92L232.87 199.65L232.99 185.93L233.11 185.93L233.23 187.92L233.35 192.79L233.47 192.79L233.59 190.18L233.71 184.15L233.83 181.07L233.94 204.52L234.06 199.65L234.18 192.79L234.3 211.37L234.42 192.79L234.54 185.93L234.66 190.18L234.78 204.52L234.9 187.92L235.02 199.65L235.13 177.29L235.25 195.88L235.37 190.18L235.49 195.88L235.61 181.07L235.73 199.65L235.85 190.18L235.97 187.92L236.09 187.92L236.21 192.79L236.32 181.07L236.44 187.92L236.56 192.79L236.68 199.65L236.8 192.79L236.92 190.18L237.04 195.88L237.16 181.07L237.28 192.79L237.4 179.71L237.51 199.65L237.63 190.18L237.75 195.88L237.87 182.54L237.99 187.92L238.11 211.37L238.23 185.93L238.35 211.37L238.47 187.92L238.59 187.92L238.7 185.93L238.82 192.79L238.94 190.18L239.06 192.79L239.18 192.79L239.3 204.52L239.42 192.79L239.54 190.18L239.66 179.71L239.78 190.18L239.9 223.1L240.01 187.92L240.13 184.15L240.25 184.15L240.37 187.92L240.49 185.93L240.61 192.79L240.73 190.18L240.85 181.07L240.97 192.79L241.09 195.88L241.2 199.65L241.32 182.54L241.44 185.93L241.56 195.88L241.68 192.79L241.8 199.65L241.92 187.92L242.04 192.79L242.16 190.18L242.28 187.92L242.39 199.65L242.51 199.65L242.63 184.15L242.75 199.65L242.87 190.18L242.99 184.15L243.11 195.88L243.23 187.92L243.35 192.79L243.47 190.18L243.58 192.79L243.7 192.79L243.82 187.92L243.94 185.93L244.06 185.93L244.18 195.88L244.3 192.79L244.42 211.37L244.54 192.79L244.66 211.37L244.77 192.79L244.89 184.15L245.01 182.54L245.13 190.18L245.25 184.15L245.37 184.15L245.49 199.65L245.61 190.18L245.73 190.18L245.85 195.88L245.96 199.65L246.08 192.79L246.2 199.65L246.32 199.65L246.44 199.65L246.56 178.46L246.68 184.15L246.8 204.52L246.92 190.18L247.04 177.29L247.16 184.15L247.27 199.65L247.39 192.79L247.51 195.88L247.63 195.88L247.75 187.92L247.87 195.88L247.99 195.88L248.11 181.07L248.23 199.65L248.35 223.1L248.46 185.93L248.58 192.79L248.7 211.37L248.82 187.92L248.94 187.92L249.06 190.18L249.18 192.79L249.3 192.79L249.42 187.92L249.54 195.88L249.65 187.92L249.77 187.92L249.89 192.79L250.01 185.93L250.13 185.93L250.25 195.88L250.37 184.15L250.49 185.93L250.61 195.88L250.73 211.37L250.84 190.18L250.96 192.79L251.08 211.37L251.2 184.15L251.32 192.79L251.44 192.79L251.56 192.79L251.68 195.88L251.8 187.92L251.92 204.52L252.03 181.07L252.15 199.65L252.27 199.65L252.39 211.37L252.51 190.18L252.63 223.1L252.75 199.65L252.87 187.92L252.99 184.15L253.11 223.1L253.22 204.52L253.34 192.79L253.46 195.88L253.58 199.65L253.7 190.18L253.82 211.37L253.94 199.65L254.06 187.92L254.18 182.54L254.3 187.92L254.42 211.37L254.53 195.88L254.65 199.65L254.77 211.37L254.89 192.79L255.01 199.65L255.13 204.52L255.25 176.2L255.37 195.88L255.49 184.15L255.61 211.37L255.72 190.18L255.84 199.65L255.96 190.18L256.08 190.18L256.2 204.52L256.32 192.79L256.44 187.92L256.56 199.65L256.68 204.52L256.8 182.54L256.91 199.65L257.03 190.18L257.15 192.79L257.27 184.15L257.39 199.65L257.51 199.65L257.63 185.93L257.75 195.88L257.87 187.92L257.99 204.52L258.1 190.18L258.22 190.18L258.34 211.37L258.46 187.92L258.58 204.52L258.7 187.92L258.82 199.65L258.94 187.92L259.06 199.65L259.18 187.92L259.29 190.18L259.41 195.88L259.53 195.88L259.65 192.79L259.77 187.92L259.89 204.52L260.01 190.18L260.13 211.37L260.25 192.79L260.37 195.88L260.48 184.15L260.6 195.88L260.72 195.88L260.84 195.88L260.96 192.79L261.08 187.92L261.2 195.88L261.32 185.93L261.44 211.37L261.56 204.52L261.68 204.52L261.79 199.65L261.91 199.65L262.03 204.52L262.15 190.18L262.27 195.88L262.39 190.18L262.51 187.92L262.63 211.37L262.75 195.88L262.87 192.79L262.98 211.37L263.1 192.79L263.22 192.79L263.34 195.88L263.46 204.52L263.58 204.52L263.7 190.18L263.82 195.88L263.94 187.92L264.06 185.93L264.17 192.79L264.29 185.93L264.41 190.18L264.53 187.92L264.65 195.88L264.77 182.54L264.89 211.37L265.01 204.52L265.13 195.88L265.25 199.65L265.36 223.1L265.48 199.65L265.6 199.65L265.72 192.79L265.84 190.18L265.96 211.37L266.08 223.1L266.2 211.37L266.32 223.1L266.44 187.92L266.55 192.79L266.67 211.37L266.79 192.79L266.91 199.65L267.03 199.65L267.15 185.93L267.27 181.07L267.39 199.65L267.51 192.79L267.63 195.88L267.74 190.18L267.86 190.18L267.98 190.18L268.1 199.65L268.22 199.65L268.34 187.92L268.46 195.88L268.58 204.52L268.7 185.93L268.82 192.79L268.94 204.52L269.05 187.92L269.17 187.92L269.29 195.88L269.41 199.65L269.53 185.93L269.65 190.18L269.77 195.88L269.89 195.88L270.01 187.92L270.13 195.88L270.24 192.79L270.36 190.18L270.48 204.52L270.6 192.79L270.72 190.18L270.84 190.18L270.96 192.79L271.08 195.88L271.2 190.18L271.32 184.15L271.43 195.88L271.55 204.52L271.67 187.92L271.79 204.52L271.91 190.18L272.03 199.65L272.15 185.93L272.27 195.88L272.39 190.18L272.51 204.52L272.62 199.65L272.74 192.79L272.86 185.93L272.98 179.71L273.1 190.18L273.22 199.65L273.34 199.65L273.46 195.88L273.58 192.79L273.7 190.18L273.81 192.79L273.93 199.65L274.05 199.65L274.17 199.65L274.29 195.88L274.41 190.18L274.53 195.88L274.65 192.79L274.77 195.88L274.89 190.18L275 190.18L275.12 190.18L275.24 223.1L275.36 185.93L275.48 199.65L275.6 192.79L275.72 192.79L275.84 204.52L275.96 190.18L276.08 187.92L276.2 192.79L276.31 190.18L276.43 204.52L276.55 190.18L276.67 190.18L276.79 192.79L276.91 192.79L277.03 199.65L277.15 187.92L277.27 211.37L277.39 184.15L277.5 187.92L277.62 185.93L277.74 190.18L277.86 199.65L277.98 204.52L278.1 185.93L278.22 199.65L278.34 192.79L278.46 187.92L278.58 190.18L278.69 187.92L278.81 185.93L278.93 195.88L279.05 192.79L279.17 223.1L279.29 192.79L279.41 185.93L279.53 185.93L279.65 211.37L279.77 185.93L279.88 190.18L280 195.88L280.12 199.65L280.24 195.88L280.36 182.54L280.48 223.1L280.6 182.54L280.72 199.65L280.84 199.65L280.96 211.37L281.07 192.79L281.19 192.79L281.31 190.18L281.43 185.93L281.55 195.88L281.67 199.65L281.79 211.37L281.91 195.88L282.03 192.79L282.15 199.65L282.26 190.18L282.38 223.1L282.5 192.79L282.62 190.18L282.74 204.52L282.86 185.93L282.98 195.88L283.1 192.79L283.22 190.18L283.34 192.79L283.46 204.52L283.57 199.65L283.69 199.65L283.81 211.37L283.93 195.88L284.05 195.88L284.17 204.52L284.29 192.79L284.41 199.65L284.53 204.52L284.65 185.93L284.76 195.88L284.88 192.79L285 192.79L285.12 195.88L285.24 192.79L285.36 211.37L285.48 182.54L285.6 195.88L285.72 190.18L285.84 187.92L285.95 204.52L286.07 190.18L286.19 204.52L286.31 190.18L286.43 184.15L286.55 204.52L286.67 192.79L286.79 199.65L286.91 185.93L287.03 179.71L287.14 192.79L287.26 195.88L287.38 204.52L287.5 211.37L287.62 199.65L287.74 223.1L287.86 190.18L287.98 187.92L288.1 199.65L288.22 187.92L288.33 211.37L288.45 204.52L288.57 192.79L288.69 184.15L288.81 211.37L288.93 199.65L289.05 187.92L289.17 195.88L289.29 192.79L289.41 199.65L289.52 204.52L289.64 192.79L289.76 195.88L289.88 187.92L290 199.65L290.12 187.92L290.24 190.18L290.36 192.79L290.48 192.79L290.6 223.1L290.72 192.79L290.83 195.88L290.95 187.92L291.07 199.65L291.19 199.65L291.31 211.37L291.43 187.92L291.55 195.88L291.67 211.37L291.79 211.37L291.91 195.88L292.02 187.92L292.14 204.52L292.26 204.52L292.38 192.79L292.5 204.52L292.62 192.79L292.74 181.07L292.86 199.65L292.98 190.18L293.1 204.52L293.21 204.52L293.33 199.65L293.45 199.65L293.57 199.65L293.69 199.65L293.81 192.79L293.93 190.18L294.05 211.37L294.17 192.79L294.29 187.92L294.4 195.88L294.52 185.93L294.64 204.52L294.76 195.88L294.88 195.88L295 187.92L295.12 195.88L295.24 192.79L295.36 192.79L295.48 192.79L295.59 195.88L295.71 195.88L295.83 204.52L295.95 199.65L296.07 187.92L296.19 195.88L296.31 195.88L296.43 204.52L296.55 195.88L296.67 190.18L296.79 190.18L296.9 192.79L297.02 192.79L297.14 187.92L297.26 204.52L297.38 187.92L297.5 192.79L297.62 223.1L297.74 195.88L297.86 199.65L297.98 199.65L298.09 204.52L298.21 190.18L298.33 190.18L298.45 187.92L298.57 192.79L298.69 204.52L298.81 211.37L298.93 199.65L299.05 192.79L299.17 190.18L299.28 199.65L299.4 199.65L299.52 185.93L299.64 185.93L299.76 190.18L299.88 195.88L300 192.79L300.12 185.93L300.24 192.79L300.36 204.52L300.47 195.88L300.59 195.88L300.71 187.92L300.83 211.37L300.95 195.88L301.07 195.88L301.19 185.93L301.31 199.65L301.43 204.52L301.55 204.52L301.66 195.88L301.78 187.92L301.9 187.92L302.02 190.18L302.14 211.37L302.26 187.92L302.38 190.18L302.5 185.93L302.62 195.88L302.74 192.79L302.85 211.37L302.97 185.93L303.09 190.18L303.21 190.18L303.33 192.79L303.45 187.92L303.57 192.79L303.69 204.52L303.81 185.93L303.93 185.93L304.05 187.92L304.16 190.18L304.28 199.65L304.4 223.1L304.52 211.37L304.64 195.88L304.76 204.52L304.88 211.37L305 204.52L305.12 195.88L305.24 184.15L305.35 185.93L305.47 190.18L305.59 190.18L305.71 185.93L305.83 187.92L305.95 195.88L306.07 199.65L306.19 182.54L306.31 187.92L306.43 199.65L306.54 190.18L306.66 211.37L306.78 195.88L306.9 190.18L307.02 199.65L307.14 190.18L307.26 204.52L307.38 195.88L307.5 184.15L307.62 223.1L307.73 195.88L307.85 195.88L307.97 190.18L308.09 192.79L308.21 190.18L308.33 192.79L308.45 187.92L308.57 223.1L308.69 195.88L308.81 199.65L308.92 195.88L309.04 195.88L309.16 192.79L309.28 185.93L309.4 204.52L309.52 192.79L309.64 187.92L309.76 199.65L309.88 195.88L310 211.37L310.11 192.79L310.23 192.79L310.35 204.52L310.47 192.79L310.59 223.1L310.71 195.88L310.83 184.15L310.95 211.37L311.07 190.18L311.19 192.79L311.31 211.37L311.42 199.65L311.54 195.88L311.66 187.92L311.78 195.88L311.9 190.18L312.02 190.18L312.14 192.79L312.26 195.88L312.38 211.37L312.5 195.88L312.61 211.37L312.73 195.88L312.85 187.92L312.97 204.52L313.09 204.52L313.21 211.37L313.33 187.92L313.45 192.79L313.57 190.18L313.69 185.93L313.8 211.37L313.92 195.88L314.04 195.88L314.16 199.65L314.28 204.52L314.4 199.65L314.52 204.52L314.64 190.18L314.76 223.1L314.88 204.52L314.99 185.93L315.11 195.88L315.23 204.52L315.35 211.37L315.47 192.79L315.59 187.92L315.71 190.18L315.83 190.18L315.95 187.92L316.07 195.88L316.18 199.65L316.3 192.79L316.42 192.79L316.54 181.07L316.66 185.93L316.78 190.18L316.9 195.88L317.02 192.79L317.14 182.54L317.26 199.65L317.37 195.88L317.49 192.79L317.61 204.52L317.73 199.65L317.85 195.88L317.97 199.65L318.09 190.18L318.21 204.52L318.33 192.79L318.45 199.65L318.57 204.52L318.68 187.92L318.8 192.79L318.92 192.79L319.04 204.52L319.16 204.52L319.28 204.52L319.4 199.65L319.52 192.79L319.64 184.15L319.76 223.1L319.87 199.65L319.99 192.79L320.11 195.88L320.23 190.18L320.35 195.88L320.47 204.52L320.59 204.52L320.71 195.88L320.83 192.79L320.95 211.37L321.06 223.1L321.18 195.88L321.3 204.52L321.42 199.65L321.54 184.15L321.66 199.65L321.78 204.52L321.9 199.65L322.02 199.65L322.14 199.65L322.25 195.88L322.37 195.88L322.49 192.79L322.61 204.52L322.73 192.79L322.85 192.79L322.97 195.88L323.09 195.88L323.21 204.52L323.33 204.52L323.44 199.65L323.56 204.52L323.68 204.52L323.8 199.65L323.92 204.52L324.04 199.65L324.16 211.37L324.28 187.92L324.4 199.65L324.52 195.88L324.63 199.65L324.75 192.79L324.87 192.79L324.99 195.88L325.11 182.54L325.23 223.1L325.35 204.52L325.47 190.18L325.59 192.79L325.71 199.65L325.83 199.65L325.94 195.88L326.06 204.52L326.18 195.88L326.3 199.65L326.42 199.65L326.54 192.79L326.66 204.52L326.78 192.79L326.9 192.79L327.02 192.79L327.13 192.79L327.25 190.18L327.37 192.79L327.49 199.65L327.61 192.79L327.73 195.88L327.85 223.1L327.97 190.18L328.09 223.1L328.21 204.52L328.32 195.88L328.44 192.79L328.56 204.52L328.68 211.37L328.8 190.18L328.92 195.88L329.04 195.88L329.16 199.65L329.28 185.93L329.4 192.79L329.51 199.65L329.63 204.52L329.75 192.79L329.87 184.15L329.99 187.92L330.11 195.88L330.23 204.52L330.35 190.18L330.47 192.79L330.59 195.88L330.7 195.88L330.82 195.88L330.94 184.15L331.06 190.18L331.18 199.65L331.3 223.1L331.42 190.18L331.54 187.92L331.66 199.65L331.78 192.79L331.89 195.88L332.01 185.93L332.13 192.79L332.25 223.1L332.37 199.65L332.49 187.92L332.61 204.52L332.73 199.65L332.85 185.93L332.97 192.79L333.09 199.65L333.2 199.65L333.32 192.79L333.44 204.52L333.56 192.79L333.68 195.88L333.8 195.88L333.92 199.65L334.04 190.18L334.16 182.54L334.28 190.18L334.39 185.93L334.51 182.54L334.63 187.92L334.75 185.93L334.87 192.79L334.99 184.15L335.11 182.54L335.23 175.17L335.35 185.93L335.47 175.17L335.58 179.71L335.7 174.21L335.82 176.2L335.94 175.17L336.06 176.2L336.18 175.17L336.3 181.07L336.42 187.92L336.54 184.15L336.66 181.07L336.77 182.54L336.89 199.65L337.01 181.07L337.13 190.18L337.25 192.79L337.37 185.93L337.49 195.88L337.61 178.46L337.73 195.88L337.85 195.88L337.96 184.15L338.08 185.93L338.2 184.15L338.32 184.15L338.44 185.93L338.56 182.54L338.68 182.54L338.8 182.54L338.92 181.07L339.04 181.07L339.15 184.15L339.27 185.93L339.39 173.29L339.51 177.29L339.63 185.93L339.75 192.79L339.87 187.92L339.99 178.46L340.11 190.18L340.23 190.18L340.35 182.54L340.46 182.54L340.58 178.46L340.7 176.2L340.82 174.21L340.94 177.29L341.06 174.21L341.18 184.15L341.3 176.2L341.42 181.07L341.54 195.88L341.65 170.81L341.77 174.21L341.89 178.46L342.01 176.2L342.13 168.65L342.25 175.17L342.37 173.29L342.49 173.29L342.61 170.81L342.73 168.65L342.84 170.81L342.96 173.29L343.08 175.17L343.2 172.42L343.32 164.47L343.44 162.02L343.56 168.65L343.68 161.57L343.8 166.73L343.92 161.57L344.03 162.48L344.15 164.47L344.27 160.28L344.39 162.02L344.51 164.47L344.63 162.48L344.75 153.29L344.87 157.27L344.99 154.13L345.11 154.13L345.22 148.35L345.34 148.97L345.46 149.84L345.58 154.71L345.7 151.97L345.82 148.56L345.94 146.8L346.06 144.54L346.18 140.25L346.3 138.45L346.41 134.98L346.53 133.56L346.65 128.91L346.77 126.45L346.89 125.68L347.01 121.83L347.13 119.46L347.25 117.09L347.37 114.34L347.49 112.43L347.61 108.57L347.72 106.92L347.84 104.47L347.96 101.4L348.08 101.8L348.2 100.21L348.32 100.34L348.44 98.74L348.56 98.57L348.68 98.65L348.8 96.88L348.91 95.53L349.03 96.07L349.15 94.39L349.27 94.52L349.39 93.46L349.51 94.19L349.63 94.31L349.75 95.29L349.87 94.94L349.99 95.9L350.1 95.83L350.22 97.37L350.34 96.32L350.46 98.01L350.58 98.68L350.7 99.43L350.82 98.78L350.94 98.49L351.06 99.96L351.18 100.89L351.29 101.31L351.41 103.62L351.53 102.8L351.65 103.49L351.77 104.36L351.89 105.36L352.01 105.65L352.13 106.33L352.25 107.06L352.37 108.35L352.48 109.26L352.6 109.61L352.72 110.17L352.84 110.41L352.96 109.86L353.08 112.72L353.2 112.45L353.32 113.23L353.44 112.21L353.56 112.97L353.67 114.12L353.79 115.06L353.91 116.39L354.03 115.09L354.15 115.88L354.27 116.77L354.39 118.11L354.51 117.71L354.63 118.63L354.75 119.42L354.87 119.17L354.98 120.06L355.1 118.6L355.22 119.72L355.34 118.49L355.46 120.1L355.58 119.87L355.7 119.53L355.82 121.37L355.94 122.53L356.06 124.65L356.17 125.06L356.29 126.06L356.41 124.75L356.53 126.96L356.65 128.15L356.77 130.32L356.89 130.25L357.01 130.11L357.13 132.89L357.25 134.7L357.36 135.16L357.48 136.03L357.6 136.63L357.72 140.25L357.84 140.25L357.96 144.06L358.08 143.59L358.2 143.43L358.32 146.8L358.44 139.03L358.55 140.12L358.67 137.68L358.79 135.07L358.91 138.23L359.03 137.25L359.15 136.83L359.27 132.57L359.39 130.46L359.51 126.01L359.63 122.35L359.74 118.63L359.86 113.51L359.98 110.07L360.1 105.85L360.22 102.33L360.34 98.49L360.46 94.06L360.58 87.68L360.7 80.75L360.82 74.01L360.93 67.09L361.05 60.45L361.17 53.47L361.29 46.9L361.41 40.14L361.53 35.58L361.65 31.03L361.77 26.46L361.89 21.93L362.01 17.44L362.13 12.85L362.24 17.41L362.36 21.94L362.48 26.43L362.6 30.94L362.72 35.59L362.84 40.01L362.96 47.71L363.08 55.75L363.2 63.4L363.32 71.12L363.43 79L363.55 86.79L363.67 94.3L363.79 98.65L363.91 104.36L364.03 108.3L364.15 113.91L364.27 118.42L364.39 124.11L364.51 127.78L364.62 131.79L364.74 137.46L364.86 140.89L364.98 146.07L365.1 148.76L365.22 150.07L365.34 153.29L365.46 155.31L365.58 159.87L365.7 161.57L365.81 158.34L365.93 161.13L366.05 162.48L366.17 170.81L366.29 161.13L366.41 171.6L366.53 170.81L366.65 172.42L366.77 170.81L366.89 172.42L367 178.46L367.12 170.81L367.24 170.81L367.36 176.2L367.48 173.29L367.6 171.6L367.72 184.15L367.84 182.54L367.96 181.07L368.08 170.06L368.2 175.17L368.31 181.07L368.43 176.2L368.55 178.46L368.67 179.71L368.79 182.54L368.91 171.6L369.03 187.92L369.15 177.29L369.27 172.42L369.39 185.93L369.5 185.93L369.62 173.29L369.74 187.92L369.86 179.71L369.98 184.15L370.1 185.93L370.22 184.15L370.34 184.15L370.46 192.79L370.58 185.93L370.69 175.17L370.81 184.15L370.93 192.79L371.05 199.65L371.17 185.93L371.29 192.79L371.41 190.18L371.53 181.07L371.65 182.54L371.77 195.88L371.88 195.88L372 184.15L372.12 182.54L372.24 184.15L372.36 182.54L372.48 190.18L372.6 187.92L372.72 179.71L372.84 185.93L372.96 184.15L373.07 195.88L373.19 190.18L373.31 190.18L373.43 184.15L373.55 195.88L373.67 192.79L373.79 187.92L373.91 190.18L374.03 185.93L374.15 199.65L374.26 192.79L374.38 195.88L374.5 199.65L374.62 199.65L374.74 204.52L374.86 195.88L374.98 184.15L375.1 199.65L375.22 192.79L375.34 195.88L375.46 199.65L375.57 190.18L375.69 199.65L375.81 178.46L375.93 192.79L376.05 192.79L376.17 185.93L376.29 223.1L376.41 204.52L376.53 195.88L376.65 187.92L376.76 190.18L376.88 195.88L377 192.79L377.12 192.79L377.24 195.88L377.36 204.52L377.48 223.1L377.6 190.18L377.72 204.52L377.84 199.65L377.95 199.65L378.07 199.65L378.19 204.52L378.31 185.93L378.43 182.54L378.55 195.88L378.67 199.65L378.79 195.88L378.91 199.65L379.03 199.65L379.14 204.52L379.26 204.52L379.38 211.37L379.5 190.18L379.62 199.65L379.74 192.79L379.86 204.52L379.98 204.52L380.1 185.93L380.22 223.1L380.33 195.88L380.45 211.37L380.57 190.18L380.69 195.88L380.81 195.88L380.93 192.79L381.05 199.65L381.17 204.52L381.29 190.18L381.41 190.18L381.52 199.65L381.64 195.88L381.76 195.88L381.88 195.88L382 199.65L382.12 204.52L382.24 204.52L382.36 211.37L382.48 223.1L382.6 211.37L382.72 199.65L382.83 204.52L382.95 204.52L383.07 199.65L383.19 204.52L383.31 204.52L383.43 211.37L383.55 199.65L383.67 187.92L383.79 199.65L383.91 223.1L384.02 195.88L384.14 195.88L384.26 190.18L384.38 192.79L384.5 195.88L384.62 204.52L384.74 199.65L384.86 199.65L384.98 190.18L385.1 204.52L385.21 185.93L385.33 192.79L385.45 195.88L385.57 190.18L385.69 192.79L385.81 204.52L385.93 185.93L386.05 211.37L386.17 211.37L386.29 204.52L386.4 195.88L386.52 199.65L386.64 204.52L386.76 211.37L386.88 192.79L387 199.65L387.12 223.1L387.24 192.79L387.36 204.52L387.48 223.1L387.59 211.37L387.71 185.93L387.83 211.37L387.95 204.52L388.07 223.1L388.19 192.79L388.31 190.18L388.43 204.52L388.55 195.88L388.67 204.52L388.78 204.52L388.9 204.52L389.02 192.79L389.14 204.52L389.26 204.52L389.38 211.37L389.5 192.79L389.62 199.65L389.74 192.79L389.86 204.52L389.98 190.18L390.09 204.52L390.21 199.65L390.33 195.88L390.45 211.37L390.57 204.52L390.69 211.37L390.81 204.52L390.93 190.18L391.05 195.88L391.17 204.52L391.28 181.07L391.4 211.37L391.52 199.65L391.64 190.18L391.76 195.88L391.88 190.18L392 211.37L392.12 199.65L392.24 195.88L392.36 192.79L392.47 223.1L392.59 223.1L392.71 187.92L392.83 192.79L392.95 211.37L393.07 195.88L393.19 195.88L393.31 195.88L393.43 195.88L393.55 192.79L393.66 223.1L393.78 195.88L393.9 223.1L394.02 211.37L394.14 204.52L394.26 204.52L394.38 184.15L394.5 195.88L394.62 184.15L394.74 190.18L394.85 192.79L394.97 190.18L395.09 195.88L395.21 211.37L395.33 204.52L395.45 195.88L395.57 199.65L395.69 192.79L395.81 195.88L395.93 199.65L396.04 199.65L396.16 211.37L396.28 204.52L396.4 199.65L396.52 204.52L396.64 204.52L396.76 199.65L396.88 192.79L397 195.88L397.12 199.65L397.24 211.37L397.35 190.18L397.47 204.52L397.59 199.65L397.71 190.18L397.83 187.92L397.95 223.1L398.07 199.65L398.19 185.93L398.31 204.52L398.43 204.52L398.54 204.52L398.66 187.92L398.78 204.52L398.9 195.88L399.02 204.52L399.14 195.88L399.26 204.52L399.38 199.65L399.5 199.65L399.62 192.79L399.73 223.1L399.85 185.93L399.97 204.52L400.09 195.88L400.21 195.88L400.33 211.37L400.45 187.92L400.57 199.65L400.69 223.1L400.81 223.1L400.92 195.88L401.04 199.65L401.16 199.65L401.28 195.88L401.4 204.52L401.52 204.52L401.64 195.88L401.76 211.37L401.88 199.65L402 211.37L402.11 204.52L402.23 199.65L402.35 199.65L402.47 211.37L402.59 192.79L402.71 199.65L402.83 192.79L402.95 211.37L403.07 199.65L403.19 192.79L403.3 211.37L403.42 195.88L403.54 195.88L403.66 211.37L403.78 199.65L403.9 195.88" stroke="#000" stroke-width="1.25" fill="none" stroke-linejoin="round"/>
<text x="59.9" y="103.6" font-family='"Liberation Sans", sans-serif' font-size="13.0" fill="#1d1dd6" stroke="#1d1dd6" stroke-width="0.28" transform="rotate(-90 59.9 103.6)">BM-SFO(0 1 0)<tspan font-size="7.8" dy="4.9">pc</tspan></text>
<text x="75" y="81.1" font-family='"Liberation Sans", sans-serif' font-size="13.0" fill="#111" stroke="#111" stroke-width="0.28" transform="rotate(-90 75 81.1)">SRO(0 0 1)<tspan font-size="7.8" dy="4.9">pc</tspan></text>
<text x="95.5" y="79.3" font-family='"Liberation Sans", sans-serif' font-size="13.0" fill="#111" stroke="#111" stroke-width="0.28" transform="rotate(-90 95.5 79.3)">STO(0 0 1)</text>
<text x="214.5" y="154" font-family='"Liberation Sans", sans-serif' font-size="13.0" fill="#1d1dd6" stroke="#1d1dd6" stroke-width="0.28" transform="rotate(-90 214.5 154)">BM-SFO(0 3/2 0)<tspan font-size="7.8" dy="4.9">pc</tspan></text>
<text x="339.5" y="102.2" font-family='"Liberation Sans", sans-serif' font-size="13.0" fill="#1d1dd6" stroke="#1d1dd6" stroke-width="0.28" transform="rotate(-90 339.5 102.2)">BM-SFO(0 2 0)<tspan font-size="7.8" dy="4.9">pc</tspan></text>
<text x="355.2" y="79.6" font-family='"Liberation Sans", sans-serif' font-size="13.0" fill="#111" stroke="#111" stroke-width="0.28" transform="rotate(-90 355.2 79.6)">SRO(0 0 2)<tspan font-size="7.8" dy="4.9">pc</tspan></text>
<text x="377.3" y="76.9" font-family='"Liberation Sans", sans-serif' font-size="13.0" fill="#111" stroke="#111" stroke-width="0.28" transform="rotate(-90 377.3 76.9)">STO(0 0 2)</text>
<path d="M62.2 104L68.64 114.4" stroke="#1d1dd6" stroke-width="1.0" fill="none"/>
<path d="M71.8 119.5L66.6 115.66L70.68 113.14Z" fill="#1d1dd6"/>
<path d="M71 84.5L76.21 115.48" stroke="#111" stroke-width="1.0" fill="none"/>
<path d="M77.2 121.4L73.84 115.88L78.57 115.09Z" fill="#111"/>
<path d="M341.9 87.1L344.54 89.98" stroke="#1d1dd6" stroke-width="1.0" fill="none"/>
<path d="M348.6 94.4L342.77 91.6L346.31 88.36Z" fill="#1d1dd6"/>
<path d="M352.3 80.9L355.73 111.34" stroke="#111" stroke-width="1.0" fill="none"/>
<path d="M356.4 117.3L353.34 111.61L358.11 111.07Z" fill="#111"/>
<text x="9" y="30.3" font-family='"Liberation Sans", sans-serif' font-size="32.5" text-anchor="middle" fill="#000" font-weight="bold">a</text>
<rect x="470.85" y="1.85" width="178.5" height="233.2" fill="none" stroke="#111" stroke-width="1.35"/>
<path d="M470.85 235.05L470.85 230.25M470.85 1.85L470.85 6.65M515.48 235.05L515.48 232.25M515.48 1.85L515.48 4.65M560.1 235.05L560.1 230.25M560.1 1.85L560.1 6.65M604.73 235.05L604.73 232.25M604.73 1.85L604.73 4.65M649.35 235.05L649.35 230.25M649.35 1.85L649.35 6.65M470.85 215.62L475.65 215.62M649.35 215.62L644.55 215.62M470.85 196.18L473.65 196.18M649.35 196.18L646.55 196.18M470.85 176.75L475.65 176.75M649.35 176.75L644.55 176.75M470.85 157.32L473.65 157.32M649.35 157.32L646.55 157.32M470.85 137.88L475.65 137.88M649.35 137.88L644.55 137.88M470.85 118.45L473.65 118.45M649.35 118.45L646.55 118.45M470.85 99.02L475.65 99.02M649.35 99.02L644.55 99.02M470.85 79.58L473.65 79.58M649.35 79.58L646.55 79.58M470.85 60.15L475.65 60.15M649.35 60.15L644.55 60.15M470.85 40.72L473.65 40.72M649.35 40.72L646.55 40.72M470.85 21.28L475.65 21.28M649.35 21.28L644.55 21.28" stroke="#111" stroke-width="1.0" fill="none"/>
<text x="470.85" y="251.15" font-family='"Liberation Sans", sans-serif' font-size="14.2" text-anchor="middle" fill="#111" font-weight="normal" stroke="#111" stroke-width="0.28">11.2</text>
<text x="560.1" y="251.15" font-family='"Liberation Sans", sans-serif' font-size="14.2" text-anchor="middle" fill="#111" font-weight="normal" stroke="#111" stroke-width="0.28">11.4</text>
<text x="649.35" y="251.15" font-family='"Liberation Sans", sans-serif' font-size="14.2" text-anchor="middle" fill="#111" font-weight="normal" stroke="#111" stroke-width="0.28">11.6</text>
<text x="468.15" y="219.52" font-family='"Liberation Sans", sans-serif' font-size="14.2" text-anchor="end" fill="#111" font-weight="normal" stroke="#111" stroke-width="0.28">0</text>
<text x="468.15" y="180.65" font-family='"Liberation Sans", sans-serif' font-size="14.2" text-anchor="end" fill="#111" font-weight="normal" stroke="#111" stroke-width="0.28">500</text>
<text x="468.15" y="141.78" font-family='"Liberation Sans", sans-serif' font-size="14.2" text-anchor="end" fill="#111" font-weight="normal" stroke="#111" stroke-width="0.28">1000</text>
<text x="468.15" y="102.92" font-family='"Liberation Sans", sans-serif' font-size="14.2" text-anchor="end" fill="#111" font-weight="normal" stroke="#111" stroke-width="0.28">1500</text>
<text x="468.15" y="64.05" font-family='"Liberation Sans", sans-serif' font-size="14.2" text-anchor="end" fill="#111" font-weight="normal" stroke="#111" stroke-width="0.28">2000</text>
<text x="468.15" y="25.18" font-family='"Liberation Sans", sans-serif' font-size="14.2" text-anchor="end" fill="#111" font-weight="normal" stroke="#111" stroke-width="0.28">2500</text>
<text x="430.5" y="121.9" font-family='"Liberation Sans", sans-serif' font-size="14.05" text-anchor="middle" fill="#111" font-weight="normal" transform="rotate(-90 430.5 121.9)" stroke="#111" stroke-width="0.28">Intensity (arb. units)</text>
<text x="560.1" y="264.65" font-family='"Liberation Sans", sans-serif' font-size="14" text-anchor="middle" fill="#111" stroke="#111" stroke-width="0.28"><tspan font-family='"Liberation Serif", "DejaVu Serif", serif' font-size="12.5">ω</tspan> (degree)</text>
<path d="M470.85 214.26L470.85 214.7L471.75 214.14L472.65 214.47L473.55 214.93L474.45 215.08L475.35 214.77L476.25 214.37L477.15 214.43L478.05 214.97L478.95 215.26L479.85 214.74L480 214.6L480.75 214.12L481.65 214.35L482.55 214.94L483.45 214.61L484.35 214.05L485.25 214.09L486.15 214.08L487.05 214.09L487.95 214.17L488.85 214.31L489.75 214.55L490.65 214.47L491.55 214.36L492.45 214.63L493.35 214.53L494.25 214.05L495.15 213.98L496.05 214.08L496.95 214.04L497.85 214.01L498.75 214.22L499.65 214.35L500 214.4L500.55 214.13L501.45 213.94L502.35 213.9L503.25 213.73L504.15 213.76L505.05 213.97L505.95 214.13L506.85 214.52L507.75 214.3L508.65 213.73L509.55 213.78L510.45 213.85L511.35 213.97L512.25 213.81L513.15 213.45L514.05 213.64L514.95 214.06L515.85 214.08L516.75 213.88L517.65 213.84L518.55 213.67L519.45 213.52L520 213.9L520.35 213.82L521.25 214.29L522.15 214.65L523.05 214.81L523.95 214.58L524.85 214.38L525.75 214.19L525.8 213.9L526.65 213.66L527.55 213.63L528.45 213.69L529.35 213.28L530.25 212.97L531.15 212.91L531.6 212.7L532.05 212.72L532.95 212.34L533.85 212.11L534.75 212.03L535.65 211.69L536.55 211.44L537.45 211.28L538.35 210.69L538.9 211L539.25 210.16L540.15 210.26L541.05 210.49L541.95 210.11L542.85 209.47L543.2 209.9L543.75 209.08L544.4 208.1L544.65 207L545.4 203.7L545.55 202.17L546.4 193.5L546.45 192.9L547.35 182.02L547.6 179L548.25 169.25L548.6 164L549.15 151.17L549.2 150L549.9 127.2L550.05 124.48L550.95 108.16L551.4 100L551.85 95.54L552.6 88.1L552.75 85.98L553.65 73.28L554.4 62.7L554.55 61.39L555.45 53.56L556.35 45.72L556.8 41.8L557.25 45.12L558.15 51.76L558.4 53.6L559.05 60.1L559.95 69.1L560.4 73.6L560.85 77.03L561.75 83.9L562.3 88.1L562.65 90.4L563.5 96L563.55 96.67L564.4 108L564.45 108.78L565.3 122L565.35 122.74L566.25 136L567.15 149.26L567.2 150L568.05 162.32L568.2 164.5L568.95 174.39L569.3 179L569.85 183.8L570.75 191.66L570.8 192.1L571.65 198.26L572 200.8L572.55 203.6L573 205.9L573.45 206.24L574.35 206.54L575.25 207.63L575.9 208.1L576.15 208.68L577.05 209.59L577.95 210.9L578 210.6L578.85 210.59L579.5 209.8L579.75 209.86L580.65 210.15L581.55 210.47L582.45 210.56L583.35 210.99L583.9 211.7L584.25 211.65L585.15 211.9L586.05 211.87L586.95 212.11L587.85 212.45L588.75 212.61L589.65 212.77L589.7 212.4L590.55 212.82L591.45 213.06L592.35 213.37L593.25 213.23L594.15 213.07L595.05 213.01L595.95 212.79L596.85 212.97L597.75 213.46L598.65 213.81L599.55 213.92L600 213.4L600.45 213.43L601.35 213.3L602.25 214L603.15 213.96L604.05 213.57L604.95 213.81L605.85 213.52L606.75 213L607.65 213.15L608.55 213.68L609.45 213.97L610.35 213.67L611.25 213.5L612.15 213.59L613.05 213.5L613.95 213.52L614.85 213.94L615.75 214.32L616.65 214.11L617.55 213.57L618.45 213.49L619.35 213.74L620 214L620.25 213.72L621.15 213.47L622.05 213.73L622.95 214.52L623.85 214.49L624.75 214.06L625.65 214.42L626.55 214.29L627.45 213.53L628.35 213.56L629.25 214.06L630.15 214.29L631.05 214.21L631.95 214.11L632.85 214.44L633.75 215.11L634.65 215.1L635.55 214.29L636.45 214.33L637.35 214.82L638.25 214.33L639.15 214.01L640.05 214.34L640.95 214.66L641.85 214.81L642.75 214.53L643.65 214.28L644.55 214.48L645.45 214.87L646.35 215.05L647.25 214.54L648.15 213.92L649.05 213.98L649.35 214.5" stroke="#000" stroke-width="1.1" fill="none" stroke-linejoin="round"/>
<text x="525.9" y="22.8" font-family='"Liberation Sans", sans-serif' font-size="16.1" fill="#111" stroke="#111" stroke-width="0.28" letter-spacing="0.3">BM-SFO(010)<tspan font-size="10.5" dy="3.4">pc</tspan></text>
<text x="546.4" y="119.8" font-family='"Liberation Sans", sans-serif' font-size="12.3" text-anchor="end" fill="#111" font-weight="normal" textLength="38.6" lengthAdjust="spacingAndGlyphs" stroke="#111" stroke-width="0.15">FWHM</text>
<text x="570.2" y="119.8" font-family='"Liberation Sans", sans-serif' font-size="12.4" fill="#111" stroke="#111" stroke-width="0.15">0.04<tspan font-size="8.6" dy="-6.0">o</tspan></text>
<path d="M525.8 127.8L546.8 127.8M541.4 125.1L546.8 127.8L541.4 130.5" stroke="#111" stroke-width="1.0" fill="none" stroke-linejoin="miter"/>
<path d="M588.9 127.8L568.6 127.8M574 125.1L568.6 127.8L574 130.5" stroke="#111" stroke-width="1.0" fill="none" stroke-linejoin="miter"/>
<text x="411.4" y="30.3" font-family='"Liberation Sans", sans-serif' font-size="32.5" text-anchor="start" fill="#000" font-weight="bold">b</text>
<rect x="46.85" y="282.8" width="357.05" height="233.4" fill="none" stroke="#111" stroke-width="1.35"/>
<path d="M46.85 516.2L46.85 511.2M46.85 282.8L46.85 287.8M76.6 516.2L76.6 513.2M76.6 282.8L76.6 285.8M106.36 516.2L106.36 511.2M106.36 282.8L106.36 287.8M136.11 516.2L136.11 513.2M136.11 282.8L136.11 285.8M165.87 516.2L165.87 511.2M165.87 282.8L165.87 287.8M195.62 516.2L195.62 513.2M195.62 282.8L195.62 285.8M225.37 516.2L225.37 511.2M225.37 282.8L225.37 287.8M255.13 516.2L255.13 513.2M255.13 282.8L255.13 285.8M284.88 516.2L284.88 511.2M284.88 282.8L284.88 287.8M314.64 516.2L314.64 513.2M314.64 282.8L314.64 285.8M344.39 516.2L344.39 511.2M344.39 282.8L344.39 287.8M374.15 516.2L374.15 513.2M374.15 282.8L374.15 285.8M403.9 516.2L403.9 511.2M403.9 282.8L403.9 287.8M46.85 513.14L49.75 513.14M403.9 513.14L401 513.14M46.85 510.53L49.75 510.53M403.9 510.53L401 510.53M46.85 508.27L49.75 508.27M403.9 508.27L401 508.27M46.85 506.28L49.75 506.28M403.9 506.28L401 506.28M46.85 504.5L51.85 504.5M403.9 504.5L398.9 504.5M46.85 492.77L49.75 492.77M403.9 492.77L401 492.77M46.85 485.92L49.75 485.92M403.9 485.92L401 485.92M46.85 481.05L49.75 481.05M403.9 481.05L401 481.05M46.85 477.28L49.75 477.28M403.9 477.28L401 477.28M46.85 474.19L49.75 474.19M403.9 474.19L401 474.19M46.85 471.58L49.75 471.58M403.9 471.58L401 471.58M46.85 469.32L49.75 469.32M403.9 469.32L401 469.32M46.85 467.33L49.75 467.33M403.9 467.33L401 467.33M46.85 465.55L51.85 465.55M403.9 465.55L398.9 465.55M46.85 453.82L49.75 453.82M403.9 453.82L401 453.82M46.85 446.97L49.75 446.97M403.9 446.97L401 446.97M46.85 442.1L49.75 442.1M403.9 442.1L401 442.1M46.85 438.33L49.75 438.33M403.9 438.33L401 438.33M46.85 435.24L49.75 435.24M403.9 435.24L401 435.24M46.85 432.63L49.75 432.63M403.9 432.63L401 432.63M46.85 430.37L49.75 430.37M403.9 430.37L401 430.37M46.85 428.38L49.75 428.38M403.9 428.38L401 428.38M46.85 426.6L51.85 426.6M403.9 426.6L398.9 426.6M46.85 414.87L49.75 414.87M403.9 414.87L401 414.87M46.85 408.02L49.75 408.02M403.9 408.02L401 408.02M46.85 403.15L49.75 403.15M403.9 403.15L401 403.15M46.85 399.38L49.75 399.38M403.9 399.38L401 399.38M46.85 396.29L49.75 396.29M403.9 396.29L401 396.29M46.85 393.68L49.75 393.68M403.9 393.68L401 393.68M46.85 391.42L49.75 391.42M403.9 391.42L401 391.42M46.85 389.43L49.75 389.43M403.9 389.43L401 389.43M46.85 387.65L51.85 387.65M403.9 387.65L398.9 387.65M46.85 375.92L49.75 375.92M403.9 375.92L401 375.92M46.85 369.07L49.75 369.07M403.9 369.07L401 369.07M46.85 364.2L49.75 364.2M403.9 364.2L401 364.2M46.85 360.43L49.75 360.43M403.9 360.43L401 360.43M46.85 357.34L49.75 357.34M403.9 357.34L401 357.34M46.85 354.73L49.75 354.73M403.9 354.73L401 354.73M46.85 352.47L49.75 352.47M403.9 352.47L401 352.47M46.85 350.48L49.75 350.48M403.9 350.48L401 350.48M46.85 348.7L51.85 348.7M403.9 348.7L398.9 348.7M46.85 336.97L49.75 336.97M403.9 336.97L401 336.97M46.85 330.12L49.75 330.12M403.9 330.12L401 330.12M46.85 325.25L49.75 325.25M403.9 325.25L401 325.25M46.85 321.48L49.75 321.48M403.9 321.48L401 321.48M46.85 318.39L49.75 318.39M403.9 318.39L401 318.39M46.85 315.78L49.75 315.78M403.9 315.78L401 315.78M46.85 313.52L49.75 313.52M403.9 313.52L401 313.52M46.85 311.53L49.75 311.53M403.9 311.53L401 311.53M46.85 309.75L51.85 309.75M403.9 309.75L398.9 309.75M46.85 298.02L49.75 298.02M403.9 298.02L401 298.02M46.85 291.17L49.75 291.17M403.9 291.17L401 291.17M46.85 286.3L49.75 286.3M403.9 286.3L401 286.3" stroke="#111" stroke-width="1.0" fill="none"/>
<text x="46.85" y="532.3" font-family='"Liberation Sans", sans-serif' font-size="14.2" text-anchor="middle" fill="#111" font-weight="normal" stroke="#111" stroke-width="0.28">20</text>
<text x="106.36" y="532.3" font-family='"Liberation Sans", sans-serif' font-size="14.2" text-anchor="middle" fill="#111" font-weight="normal" stroke="#111" stroke-width="0.28">25</text>
<text x="165.87" y="532.3" font-family='"Liberation Sans", sans-serif' font-size="14.2" text-anchor="middle" fill="#111" font-weight="normal" stroke="#111" stroke-width="0.28">30</text>
<text x="225.37" y="532.3" font-family='"Liberation Sans", sans-serif' font-size="14.2" text-anchor="middle" fill="#111" font-weight="normal" stroke="#111" stroke-width="0.28">35</text>
<text x="284.88" y="532.3" font-family='"Liberation Sans", sans-serif' font-size="14.2" text-anchor="middle" fill="#111" font-weight="normal" stroke="#111" stroke-width="0.28">40</text>
<text x="344.39" y="532.3" font-family='"Liberation Sans", sans-serif' font-size="14.2" text-anchor="middle" fill="#111" font-weight="normal" stroke="#111" stroke-width="0.28">45</text>
<text x="403.9" y="532.3" font-family='"Liberation Sans", sans-serif' font-size="14.2" text-anchor="middle" fill="#111" font-weight="normal" stroke="#111" stroke-width="0.28">50</text>
<text x="41.9" y="509.9" font-family='"Liberation Sans", sans-serif' font-size="13.5" text-anchor="end" fill="#111" stroke="#111" stroke-width="0.28">10<tspan font-size="8.2" dy="-7.2">0</tspan></text>
<text x="41.9" y="470.95" font-family='"Liberation Sans", sans-serif' font-size="13.5" text-anchor="end" fill="#111" stroke="#111" stroke-width="0.28">10<tspan font-size="8.2" dy="-7.2">1</tspan></text>
<text x="41.9" y="432" font-family='"Liberation Sans", sans-serif' font-size="13.5" text-anchor="end" fill="#111" stroke="#111" stroke-width="0.28">10<tspan font-size="8.2" dy="-7.2">2</tspan></text>
<text x="41.9" y="393.05" font-family='"Liberation Sans", sans-serif' font-size="13.5" text-anchor="end" fill="#111" stroke="#111" stroke-width="0.28">10<tspan font-size="8.2" dy="-7.2">3</tspan></text>
<text x="41.9" y="354.1" font-family='"Liberation Sans", sans-serif' font-size="13.5" text-anchor="end" fill="#111" stroke="#111" stroke-width="0.28">10<tspan font-size="8.2" dy="-7.2">4</tspan></text>
<text x="41.9" y="315.15" font-family='"Liberation Sans", sans-serif' font-size="13.5" text-anchor="end" fill="#111" stroke="#111" stroke-width="0.28">10<tspan font-size="8.2" dy="-7.2">5</tspan></text>
<text x="11.8" y="406.7" font-family='"Liberation Sans", sans-serif' font-size="14.05" text-anchor="middle" fill="#111" font-weight="normal" transform="rotate(-90 11.8 406.7)" stroke="#111" stroke-width="0.28">Intensity (arb. units)</text>
<text x="225.38" y="547.8" font-family='"Liberation Sans", sans-serif' font-size="14" text-anchor="middle" fill="#111" stroke="#111" stroke-width="0.28">2<tspan font-family='"Liberation Serif", "DejaVu Serif", serif' font-style="italic" font-size="14.5">θ</tspan> (degree)</text>
<path d="M46.85 459.86L46.97 456.57L47.09 462.47L47.21 467.33L47.33 469.32L47.45 471.58L47.56 458.69L47.68 459.86L47.8 450.74L47.92 467.33L48.04 462.47L48.16 461.11L48.28 463.94L48.4 463.94L48.52 457.6L48.64 463.94L48.75 461.11L48.87 465.55L48.99 465.55L49.11 461.11L49.23 461.11L49.35 458.69L49.47 461.11L49.59 467.33L49.71 463.94L49.83 461.11L49.94 459.86L50.06 461.11L50.18 461.11L50.3 453.82L50.42 477.28L50.54 463.94L50.66 458.69L50.78 456.57L50.9 462.47L51.02 469.32L51.13 467.33L51.25 459.86L51.37 454.69L51.49 469.32L51.61 459.86L51.73 463.94L51.85 462.47L51.97 463.94L52.09 453.82L52.21 451.46L52.32 467.33L52.44 458.69L52.56 458.69L52.68 459.86L52.8 462.47L52.92 463.94L53.04 462.47L53.16 467.33L53.28 465.55L53.4 457.6L53.51 459.86L53.63 454.69L53.75 462.47L53.87 461.11L53.99 465.55L54.11 456.57L54.23 456.57L54.35 461.11L54.47 462.47L54.59 458.69L54.71 457.6L54.82 461.11L54.94 462.47L55.06 461.11L55.18 469.32L55.3 458.69L55.42 461.11L55.54 467.33L55.66 481.05L55.78 456.57L55.9 454.69L56.01 453L56.13 462.47L56.25 457.6L56.37 457.6L56.49 474.19L56.61 461.11L56.73 465.55L56.85 454.69L56.97 454.69L57.09 450.74L57.2 459.86L57.32 461.11L57.44 463.94L57.56 459.86L57.68 462.47L57.8 463.94L57.92 459.86L58.04 462.47L58.16 459.86L58.28 461.11L58.39 456.57L58.51 463.94L58.63 467.33L58.75 459.86L58.87 461.11L58.99 453L59.11 477.28L59.23 467.33L59.35 458.69L59.47 467.33L59.58 461.11L59.7 463.94L59.82 463.94L59.94 463.94L60.06 456.57L60.18 463.94L60.3 453L60.42 462.47L60.54 456.57L60.66 458.69L60.77 459.86L60.89 457.6L61.01 453L61.13 462.47L61.25 458.69L61.37 467.33L61.49 457.6L61.61 456.57L61.73 463.94L61.85 457.6L61.97 462.47L62.08 465.55L62.2 457.6L62.32 471.58L62.44 462.47L62.56 461.11L62.68 455.61L62.8 458.69L62.92 456.57L63.04 455.61L63.16 454.69L63.27 463.94L63.39 456.57L63.51 459.86L63.63 462.47L63.75 469.32L63.87 456.57L63.99 451.46L64.11 462.47L64.23 453L64.35 453.82L64.46 458.69L64.58 467.33L64.7 459.86L64.82 454.69L64.94 461.11L65.06 457.6L65.18 459.86L65.3 456.57L65.42 455.61L65.54 463.94L65.65 459.86L65.77 461.11L65.89 457.6L66.01 461.11L66.13 459.86L66.25 461.11L66.37 459.86L66.49 458.69L66.61 456.57L66.73 461.11L66.84 461.11L66.96 481.05L67.08 456.57L67.2 457.6L67.32 465.55L67.44 474.19L67.56 458.69L67.68 450.05L67.8 454.69L67.92 467.33L68.03 457.6L68.15 459.86L68.27 461.11L68.39 462.47L68.51 458.69L68.63 458.69L68.75 461.11L68.87 462.47L68.99 462.47L69.11 465.55L69.23 457.6L69.34 463.94L69.46 455.61L69.58 457.6L69.7 456.57L69.82 456.57L69.94 465.55L70.06 461.11L70.18 469.32L70.3 458.69L70.42 455.61L70.53 457.6L70.65 465.55L70.77 458.69L70.89 457.6L71.01 455.61L71.13 457.6L71.25 457.6L71.37 456.57L71.49 456.57L71.61 457.6L71.72 462.47L71.84 458.69L71.96 450.74L72.08 449.39L72.2 456.57L72.32 453L72.44 461.11L72.56 458.69L72.68 456.57L72.8 442.97L72.91 442.1L73.03 444.36L73.15 441.27L73.27 439.74L73.39 439.02L73.51 431.69L73.63 433.89L73.75 429.75L73.87 427.29L73.99 424.68L74.1 422.42L74.22 420.08L74.34 416.85L74.46 416.85L74.58 412.15L74.7 408.24L74.82 408.77L74.94 407.46L75.06 405.85L75.18 405.6L75.29 404.56L75.41 407.14L75.53 406.82L75.65 407.46L75.77 409.49L75.89 410.83L76.01 415.48L76.13 418.86L76.25 419.08L76.37 422.56L76.49 423.38L76.6 424.99L76.72 428.01L76.84 428.76L76.96 431.47L77.08 431.24L77.2 431.47L77.32 436.41L77.44 431.69L77.56 425.94L77.68 427.29L77.79 421.4L77.91 421.4L78.03 415.92L78.15 406.35L78.27 400L78.39 392.43L78.51 385.33L78.63 376.52L78.75 368.2L78.87 360.88L78.98 352.68L79.1 344.7L79.22 336.6L79.34 328.69L79.46 328.47L79.58 328.45L79.7 336.4L79.82 344.84L79.94 353.12L80.06 361.21L80.17 369.51L80.29 375.57L80.41 382.4L80.53 387.94L80.65 395.17L80.77 402.65L80.89 406.61L81.01 416.01L81.13 418.65L81.25 420.91L81.36 423.1L81.48 428.01L81.6 429.35L81.72 435.24L81.84 432.63L81.96 436.71L82.08 434.69L82.2 439.74L82.32 441.27L82.44 442.1L82.56 446.97L82.67 446.41L82.79 445.35L82.91 439.02L83.03 445.87L83.15 450.05L83.27 457.6L83.39 454.69L83.51 452.21L83.63 451.46L83.75 450.05L83.86 449.39L83.98 455.61L84.1 454.69L84.22 461.11L84.34 454.69L84.46 457.6L84.58 453.82L84.7 452.21L84.82 458.69L84.94 455.61L85.05 457.6L85.17 461.11L85.29 459.86L85.41 457.6L85.53 457.6L85.65 452.21L85.77 457.6L85.89 456.57L86.01 453.82L86.13 474.19L86.24 450.05L86.36 456.57L86.48 454.69L86.6 459.86L86.72 455.61L86.84 461.11L86.96 457.6L87.08 469.32L87.2 450.74L87.32 465.55L87.43 455.61L87.55 467.33L87.67 454.69L87.79 457.6L87.91 458.69L88.03 453L88.15 462.47L88.27 453L88.39 462.47L88.51 465.55L88.62 462.47L88.74 469.32L88.86 453L88.98 459.86L89.1 462.47L89.22 457.6L89.34 459.86L89.46 458.69L89.58 454.69L89.7 457.6L89.82 457.6L89.93 454.69L90.05 467.33L90.17 467.33L90.29 456.57L90.41 459.86L90.53 456.57L90.65 461.11L90.77 463.94L90.89 457.6L91.01 454.69L91.12 462.47L91.24 457.6L91.36 477.28L91.48 462.47L91.6 461.11L91.72 453.82L91.84 462.47L91.96 453L92.08 453L92.2 474.19L92.31 463.94L92.43 467.33L92.55 458.69L92.67 459.86L92.79 453.82L92.91 454.69L93.03 455.61L93.15 465.55L93.27 461.11L93.39 467.33L93.5 474.19L93.62 465.55L93.74 457.6L93.86 465.55L93.98 461.11L94.1 462.47L94.22 457.6L94.34 461.11L94.46 451.46L94.58 458.69L94.69 461.11L94.81 457.6L94.93 459.86L95.05 462.47L95.17 462.47L95.29 451.46L95.41 458.69L95.53 474.19L95.65 461.11L95.77 465.55L95.88 459.86L96 457.6L96.12 450.74L96.24 456.57L96.36 457.6L96.48 461.11L96.6 453.82L96.72 469.32L96.84 459.86L96.96 452.21L97.08 467.33L97.19 471.58L97.31 455.61L97.43 458.69L97.55 459.86L97.67 467.33L97.79 456.57L97.91 462.47L98.03 458.69L98.15 455.61L98.27 452.21L98.38 458.69L98.5 458.69L98.62 462.47L98.74 450.05L98.86 465.55L98.98 463.94L99.1 450.74L99.22 457.6L99.34 448.13L99.46 465.55L99.57 462.47L99.69 458.69L99.81 463.94L99.93 456.57L100.05 451.46L100.17 462.47L100.29 467.33L100.41 463.94L100.53 465.55L100.65 465.55L100.76 462.47L100.88 461.11L101 456.57L101.12 458.69L101.24 459.86L101.36 454.69L101.48 474.19L101.6 463.94L101.72 462.47L101.84 469.32L101.95 458.69L102.07 462.47L102.19 467.33L102.31 456.57L102.43 462.47L102.55 458.69L102.67 463.94L102.79 459.86L102.91 459.86L103.03 462.47L103.14 471.58L103.26 452.21L103.38 453L103.5 471.58L103.62 463.94L103.74 462.47L103.86 462.47L103.98 459.86L104.1 456.57L104.22 459.86L104.34 462.47L104.45 459.86L104.57 469.32L104.69 453L104.81 467.33L104.93 467.33L105.05 467.33L105.17 458.69L105.29 455.61L105.41 467.33L105.53 462.47L105.64 453.82L105.76 461.11L105.88 462.47L106 462.47L106.12 457.6L106.24 465.55L106.36 465.55L106.48 467.33L106.6 471.58L106.72 465.55L106.83 465.55L106.95 459.86L107.07 462.47L107.19 457.6L107.31 459.86L107.43 463.94L107.55 465.55L107.67 462.47L107.79 469.32L107.91 456.57L108.02 457.6L108.14 457.6L108.26 459.86L108.38 467.33L108.5 469.32L108.62 462.47L108.74 463.94L108.86 458.69L108.98 453L109.1 467.33L109.21 461.11L109.33 453L109.45 462.47L109.57 462.47L109.69 457.6L109.81 454.69L109.93 465.55L110.05 453L110.17 462.47L110.29 458.69L110.4 461.11L110.52 458.69L110.64 471.58L110.76 465.55L110.88 463.94L111 463.94L111.12 463.94L111.24 465.55L111.36 465.55L111.48 462.47L111.6 454.69L111.71 462.47L111.83 456.57L111.95 469.32L112.07 462.47L112.19 453L112.31 450.74L112.43 459.86L112.55 459.86L112.67 458.69L112.79 455.61L112.9 450.05L113.02 456.57L113.14 457.6L113.26 462.47L113.38 457.6L113.5 459.86L113.62 467.33L113.74 462.47L113.86 461.11L113.98 462.47L114.09 458.69L114.21 456.57L114.33 467.33L114.45 461.11L114.57 474.19L114.69 461.11L114.81 463.94L114.93 461.11L115.05 459.86L115.17 461.11L115.28 467.33L115.4 455.61L115.52 463.94L115.64 459.86L115.76 463.94L115.88 465.55L116 459.86L116.12 477.28L116.24 462.47L116.36 456.57L116.47 461.11L116.59 454.69L116.71 465.55L116.83 457.6L116.95 467.33L117.07 467.33L117.19 462.47L117.31 462.47L117.43 462.47L117.55 467.33L117.66 462.47L117.78 459.86L117.9 458.69L118.02 459.86L118.14 465.55L118.26 465.55L118.38 459.86L118.5 465.55L118.62 463.94L118.74 461.11L118.86 462.47L118.97 457.6L119.09 467.33L119.21 456.57L119.33 461.11L119.45 457.6L119.57 455.61L119.69 462.47L119.81 469.32L119.93 463.94L120.05 457.6L120.16 461.11L120.28 455.61L120.4 459.86L120.52 463.94L120.64 458.69L120.76 461.11L120.88 471.58L121 462.47L121.12 462.47L121.24 455.61L121.35 457.6L121.47 454.69L121.59 458.69L121.71 456.57L121.83 462.47L121.95 459.86L122.07 463.94L122.19 465.55L122.31 463.94L122.43 454.69L122.54 461.11L122.66 463.94L122.78 458.69L122.9 469.32L123.02 465.55L123.14 471.58L123.26 457.6L123.38 458.69L123.5 463.94L123.62 461.11L123.73 474.19L123.85 469.32L123.97 467.33L124.09 481.05L124.21 459.86L124.33 462.47L124.45 469.32L124.57 451.46L124.69 457.6L124.81 463.94L124.92 465.55L125.04 461.11L125.16 453.82L125.28 458.69L125.4 457.6L125.52 461.11L125.64 459.86L125.76 471.58L125.88 463.94L126 467.33L126.12 471.58L126.23 459.86L126.35 453L126.47 456.57L126.59 461.11L126.71 462.47L126.83 457.6L126.95 467.33L127.07 457.6L127.19 463.94L127.31 467.33L127.42 461.11L127.54 455.61L127.66 451.46L127.78 471.58L127.9 465.55L128.02 453L128.14 465.55L128.26 459.86L128.38 456.57L128.5 471.58L128.61 467.33L128.73 465.55L128.85 469.32L128.97 463.94L129.09 474.19L129.21 469.32L129.33 463.94L129.45 457.6L129.57 463.94L129.69 462.47L129.8 459.86L129.92 461.11L130.04 461.11L130.16 477.28L130.28 469.32L130.4 462.47L130.52 456.57L130.64 453L130.76 459.86L130.88 459.86L130.99 457.6L131.11 458.69L131.23 469.32L131.35 467.33L131.47 467.33L131.59 465.55L131.71 454.69L131.83 458.69L131.95 462.47L132.07 465.55L132.18 456.57L132.3 455.61L132.42 458.69L132.54 469.32L132.66 465.55L132.78 467.33L132.9 471.58L133.02 461.11L133.14 471.58L133.26 463.94L133.38 461.11L133.49 469.32L133.61 459.86L133.73 471.58L133.85 461.11L133.97 469.32L134.09 452.21L134.21 467.33L134.33 467.33L134.45 461.11L134.57 456.57L134.68 471.58L134.8 481.05L134.92 469.32L135.04 465.55L135.16 457.6L135.28 457.6L135.4 459.86L135.52 463.94L135.64 457.6L135.76 457.6L135.87 461.11L135.99 457.6L136.11 463.94L136.23 456.57L136.35 453.82L136.47 465.55L136.59 467.33L136.71 448.75L136.83 463.94L136.95 457.6L137.06 474.19L137.18 456.57L137.3 469.32L137.42 462.47L137.54 463.94L137.66 463.94L137.78 457.6L137.9 467.33L138.02 458.69L138.14 459.86L138.25 462.47L138.37 465.55L138.49 455.61L138.61 459.86L138.73 465.55L138.85 471.58L138.97 463.94L139.09 459.86L139.21 449.39L139.33 453L139.44 457.6L139.56 455.61L139.68 463.94L139.8 453L139.92 462.47L140.04 457.6L140.16 471.58L140.28 456.57L140.4 457.6L140.52 474.19L140.64 474.19L140.75 462.47L140.87 463.94L140.99 474.19L141.11 458.69L141.23 457.6L141.35 461.11L141.47 477.28L141.59 471.58L141.71 458.69L141.83 461.11L141.94 458.69L142.06 465.55L142.18 467.33L142.3 467.33L142.42 463.94L142.54 462.47L142.66 471.58L142.78 465.55L142.9 469.32L143.02 462.47L143.13 471.58L143.25 463.94L143.37 463.94L143.49 456.57L143.61 467.33L143.73 465.55L143.85 462.47L143.97 458.69L144.09 462.47L144.21 469.32L144.32 471.58L144.44 471.58L144.56 465.55L144.68 471.58L144.8 459.86L144.92 467.33L145.04 465.55L145.16 459.86L145.28 469.32L145.4 463.94L145.51 465.55L145.63 471.58L145.75 457.6L145.87 465.55L145.99 459.86L146.11 465.55L146.23 467.33L146.35 456.57L146.47 456.57L146.59 462.47L146.7 467.33L146.82 477.28L146.94 459.86L147.06 462.47L147.18 471.58L147.3 463.94L147.42 467.33L147.54 463.94L147.66 465.55L147.78 469.32L147.9 461.11L148.01 465.55L148.13 469.32L148.25 462.47L148.37 458.69L148.49 461.11L148.61 471.58L148.73 463.94L148.85 459.86L148.97 467.33L149.09 465.55L149.2 459.86L149.32 465.55L149.44 471.58L149.56 465.55L149.68 459.86L149.8 458.69L149.92 461.11L150.04 474.19L150.16 471.58L150.28 450.74L150.39 469.32L150.51 463.94L150.63 455.61L150.75 461.11L150.87 458.69L150.99 459.86L151.11 454.69L151.23 461.11L151.35 465.55L151.47 477.28L151.58 456.57L151.7 461.11L151.82 463.94L151.94 462.47L152.06 469.32L152.18 477.28L152.3 469.32L152.42 467.33L152.54 481.05L152.66 471.58L152.77 471.58L152.89 459.86L153.01 456.57L153.13 456.57L153.25 467.33L153.37 459.86L153.49 481.05L153.61 471.58L153.73 471.58L153.85 461.11L153.97 467.33L154.08 458.69L154.2 453.82L154.32 465.55L154.44 462.47L154.56 458.69L154.68 453.82L154.8 471.58L154.92 463.94L155.04 469.32L155.16 462.47L155.27 469.32L155.39 459.86L155.51 458.69L155.63 461.11L155.75 463.94L155.87 453L155.99 457.6L156.11 465.55L156.23 469.32L156.35 471.58L156.46 463.94L156.58 457.6L156.7 474.19L156.82 471.58L156.94 477.28L157.06 465.55L157.18 469.32L157.3 461.11L157.42 461.11L157.54 462.47L157.65 454.69L157.77 455.61L157.89 463.94L158.01 465.55L158.13 481.05L158.25 454.69L158.37 465.55L158.49 458.69L158.61 467.33L158.73 459.86L158.84 459.86L158.96 469.32L159.08 465.55L159.2 469.32L159.32 477.28L159.44 465.55L159.56 469.32L159.68 459.86L159.8 474.19L159.92 456.57L160.03 471.58L160.15 461.11L160.27 465.55L160.39 457.6L160.51 458.69L160.63 467.33L160.75 461.11L160.87 465.55L160.99 477.28L161.11 467.33L161.23 469.32L161.34 462.47L161.46 471.58L161.58 469.32L161.7 469.32L161.82 459.86L161.94 469.32L162.06 462.47L162.18 465.55L162.3 474.19L162.42 459.86L162.53 459.86L162.65 463.94L162.77 477.28L162.89 467.33L163.01 471.58L163.13 477.28L163.25 462.47L163.37 462.47L163.49 457.6L163.61 474.19L163.72 459.86L163.84 459.86L163.96 463.94L164.08 463.94L164.2 455.61L164.32 459.86L164.44 457.6L164.56 456.57L164.68 455.61L164.8 456.57L164.91 471.58L165.03 481.05L165.15 462.47L165.27 457.6L165.39 469.32L165.51 457.6L165.63 465.55L165.75 467.33L165.87 462.47L165.99 462.47L166.1 465.55L166.22 456.57L166.34 461.11L166.46 459.86L166.58 461.11L166.7 467.33L166.82 463.94L166.94 474.19L167.06 474.19L167.18 469.32L167.29 459.86L167.41 467.33L167.53 457.6L167.65 504.5L167.77 465.55L167.89 462.47L168.01 461.11L168.13 461.11L168.25 477.28L168.37 465.55L168.49 471.58L168.6 471.58L168.72 469.32L168.84 458.69L168.96 461.11L169.08 454.69L169.2 465.55L169.32 469.32L169.44 463.94L169.56 452.21L169.68 461.11L169.79 458.69L169.91 461.11L170.03 469.32L170.15 481.05L170.27 477.28L170.39 465.55L170.51 492.77L170.63 461.11L170.75 463.94L170.87 455.61L170.98 477.28L171.1 463.94L171.22 458.69L171.34 467.33L171.46 467.33L171.58 467.33L171.7 467.33L171.82 458.69L171.94 462.47L172.06 471.58L172.17 471.58L172.29 463.94L172.41 465.55L172.53 458.69L172.65 463.94L172.77 481.05L172.89 459.86L173.01 467.33L173.13 459.86L173.25 474.19L173.36 459.86L173.48 465.55L173.6 458.69L173.72 477.28L173.84 467.33L173.96 471.58L174.08 462.47L174.2 463.94L174.32 471.58L174.44 459.86L174.55 467.33L174.67 467.33L174.79 469.32L174.91 481.05L175.03 467.33L175.15 465.55L175.27 467.33L175.39 458.69L175.51 469.32L175.63 461.11L175.75 461.11L175.86 465.55L175.98 459.86L176.1 462.47L176.22 477.28L176.34 463.94L176.46 465.55L176.58 469.32L176.7 474.19L176.82 462.47L176.94 462.47L177.05 463.94L177.17 471.58L177.29 462.47L177.41 465.55L177.53 462.47L177.65 461.11L177.77 459.86L177.89 463.94L178.01 465.55L178.13 481.05L178.24 471.58L178.36 469.32L178.48 462.47L178.6 459.86L178.72 457.6L178.84 462.47L178.96 462.47L179.08 474.19L179.2 477.28L179.32 459.86L179.43 463.94L179.55 463.94L179.67 463.94L179.79 463.94L179.91 469.32L180.03 467.33L180.15 459.86L180.27 461.11L180.39 462.47L180.51 481.05L180.62 467.33L180.74 477.28L180.86 469.32L180.98 465.55L181.1 471.58L181.22 459.86L181.34 463.94L181.46 454.69L181.58 471.58L181.7 477.28L181.81 463.94L181.93 465.55L182.05 467.33L182.17 462.47L182.29 462.47L182.41 465.55L182.53 469.32L182.65 469.32L182.77 463.94L182.89 458.69L183.01 461.11L183.12 463.94L183.24 458.69L183.36 467.33L183.48 469.32L183.6 471.58L183.72 471.58L183.84 463.94L183.96 467.33L184.08 477.28L184.2 463.94L184.31 469.32L184.43 457.6L184.55 477.28L184.67 458.69L184.79 465.55L184.91 469.32L185.03 462.47L185.15 463.94L185.27 462.47L185.39 474.19L185.5 471.58L185.62 462.47L185.74 471.58L185.86 477.28L185.98 492.77L186.1 477.28L186.22 462.47L186.34 471.58L186.46 463.94L186.58 458.69L186.69 467.33L186.81 474.19L186.93 469.32L187.05 477.28L187.17 467.33L187.29 465.55L187.41 463.94L187.53 463.94L187.65 471.58L187.77 465.55L187.88 471.58L188 461.11L188.12 462.47L188.24 463.94L188.36 469.32L188.48 471.58L188.6 461.11L188.72 462.47L188.84 463.94L188.96 471.58L189.07 465.55L189.19 456.57L189.31 471.58L189.43 469.32L189.55 477.28L189.67 469.32L189.79 471.58L189.91 471.58L190.03 461.11L190.15 467.33L190.27 463.94L190.38 477.28L190.5 474.19L190.62 465.55L190.74 469.32L190.86 467.33L190.98 465.55L191.1 465.55L191.22 455.61L191.34 467.33L191.46 463.94L191.57 467.33L191.69 471.58L191.81 467.33L191.93 477.28L192.05 474.19L192.17 452.21L192.29 457.6L192.41 471.58L192.53 462.47L192.65 465.55L192.76 465.55L192.88 467.33L193 465.55L193.12 467.33L193.24 455.61L193.36 461.11L193.48 463.94L193.6 458.69L193.72 467.33L193.84 462.47L193.95 474.19L194.07 471.58L194.19 467.33L194.31 469.32L194.43 461.11L194.55 457.6L194.67 453.82L194.79 467.33L194.91 469.32L195.03 471.58L195.14 462.47L195.26 462.47L195.38 477.28L195.5 481.05L195.62 467.33L195.74 459.86L195.86 465.55L195.98 469.32L196.1 465.55L196.22 471.58L196.33 469.32L196.45 463.94L196.57 462.47L196.69 463.94L196.81 469.32L196.93 469.32L197.05 471.58L197.17 462.47L197.29 465.55L197.41 474.19L197.53 467.33L197.64 469.32L197.76 469.32L197.88 477.28L198 459.86L198.12 462.47L198.24 467.33L198.36 463.94L198.48 469.32L198.6 504.5L198.72 463.94L198.83 471.58L198.95 469.32L199.07 477.28L199.19 467.33L199.31 467.33L199.43 465.55L199.55 469.32L199.67 467.33L199.79 462.47L199.91 467.33L200.02 467.33L200.14 453L200.26 461.11L200.38 463.94L200.5 463.94L200.62 474.19L200.74 465.55L200.86 471.58L200.98 469.32L201.1 477.28L201.21 461.11L201.33 463.94L201.45 471.58L201.57 481.05L201.69 465.55L201.81 467.33L201.93 465.55L202.05 477.28L202.17 474.19L202.29 469.32L202.4 469.32L202.52 471.58L202.64 467.33L202.76 469.32L202.88 474.19L203 463.94L203.12 471.58L203.24 463.94L203.36 465.55L203.48 492.77L203.59 477.28L203.71 469.32L203.83 469.32L203.95 469.32L204.07 469.32L204.19 477.28L204.31 471.58L204.43 477.28L204.55 463.94L204.67 477.28L204.79 481.05L204.9 471.58L205.02 461.11L205.14 474.19L205.26 471.58L205.38 469.32L205.5 465.55L205.62 465.55L205.74 469.32L205.86 463.94L205.98 477.28L206.09 469.32L206.21 462.47L206.33 458.69L206.45 467.33L206.57 471.58L206.69 477.28L206.81 465.55L206.93 471.58L207.05 467.33L207.17 459.86L207.28 467.33L207.4 465.55L207.52 462.47L207.64 465.55L207.76 459.86L207.88 458.69L208 477.28L208.12 462.47L208.24 465.55L208.36 458.69L208.47 469.32L208.59 453L208.71 455.61L208.83 457.6L208.95 450.05L209.07 455.61L209.19 457.6L209.31 448.75L209.43 450.05L209.55 453L209.66 454.69L209.78 455.61L209.9 448.13L210.02 444.36L210.14 440.88L210.26 441.27L210.38 443.42L210.5 447.54L210.62 440.88L210.74 442.1L210.85 447.54L210.97 446.41L211.09 448.13L211.21 443.42L211.33 453L211.45 443.88L211.57 449.39L211.69 457.6L211.81 446.97L211.93 451.46L212.05 452.21L212.16 448.13L212.28 465.55L212.4 459.86L212.52 456.57L212.64 453.82L212.76 457.6L212.88 457.6L213 459.86L213.12 471.58L213.24 454.69L213.35 471.58L213.47 465.55L213.59 465.55L213.71 471.58L213.83 477.28L213.95 457.6L214.07 471.58L214.19 462.47L214.31 471.58L214.43 463.94L214.54 469.32L214.66 477.28L214.78 469.32L214.9 492.77L215.02 465.55L215.14 465.55L215.26 457.6L215.38 467.33L215.5 471.58L215.62 477.28L215.73 456.57L215.85 469.32L215.97 467.33L216.09 469.32L216.21 467.33L216.33 463.94L216.45 477.28L216.57 461.11L216.69 459.86L216.81 477.28L216.92 471.58L217.04 485.92L217.16 465.55L217.28 469.32L217.4 477.28L217.52 471.58L217.64 462.47L217.76 467.33L217.88 474.19L218 463.94L218.11 471.58L218.23 481.05L218.35 463.94L218.47 474.19L218.59 469.32L218.71 465.55L218.83 465.55L218.95 477.28L219.07 471.58L219.19 471.58L219.31 477.28L219.42 471.58L219.54 477.28L219.66 467.33L219.78 469.32L219.9 463.94L220.02 458.69L220.14 461.11L220.26 467.33L220.38 469.32L220.5 465.55L220.61 462.47L220.73 481.05L220.85 474.19L220.97 462.47L221.09 467.33L221.21 474.19L221.33 485.92L221.45 474.19L221.57 465.55L221.69 474.19L221.8 463.94L221.92 463.94L222.04 471.58L222.16 465.55L222.28 474.19L222.4 463.94L222.52 477.28L222.64 462.47L222.76 463.94L222.88 471.58L222.99 465.55L223.11 469.32L223.23 467.33L223.35 465.55L223.47 471.58L223.59 474.19L223.71 474.19L223.83 467.33L223.95 467.33L224.07 471.58L224.18 477.28L224.3 469.32L224.42 462.47L224.54 474.19L224.66 463.94L224.78 465.55L224.9 471.58L225.02 465.55L225.14 474.19L225.26 463.94L225.38 462.47L225.49 459.86L225.61 467.33L225.73 463.94L225.85 467.33L225.97 474.19L226.09 481.05L226.21 471.58L226.33 469.32L226.45 463.94L226.57 465.55L226.68 462.47L226.8 471.58L226.92 477.28L227.04 467.33L227.16 474.19L227.28 463.94L227.4 469.32L227.52 465.55L227.64 462.47L227.76 471.58L227.87 469.32L227.99 474.19L228.11 469.32L228.23 471.58L228.35 467.33L228.47 471.58L228.59 471.58L228.71 467.33L228.83 471.58L228.95 469.32L229.06 471.58L229.18 492.77L229.3 474.19L229.42 463.94L229.54 477.28L229.66 471.58L229.78 469.32L229.9 467.33L230.02 481.05L230.14 459.86L230.25 474.19L230.37 474.19L230.49 469.32L230.61 469.32L230.73 477.28L230.85 469.32L230.97 462.47L231.09 467.33L231.21 471.58L231.33 477.28L231.44 467.33L231.56 481.05L231.68 467.33L231.8 457.6L231.92 469.32L232.04 471.58L232.16 485.92L232.28 474.19L232.4 471.58L232.52 461.11L232.64 465.55L232.75 481.05L232.87 474.19L232.99 467.33L233.11 481.05L233.23 467.33L233.35 481.05L233.47 467.33L233.59 467.33L233.71 477.28L233.83 481.05L233.94 477.28L234.06 469.32L234.18 469.32L234.3 461.11L234.42 492.77L234.54 471.58L234.66 471.58L234.78 465.55L234.9 474.19L235.02 465.55L235.13 485.92L235.25 467.33L235.37 477.28L235.49 469.32L235.61 469.32L235.73 477.28L235.85 467.33L235.97 477.28L236.09 465.55L236.21 467.33L236.32 477.28L236.44 463.94L236.56 471.58L236.68 469.32L236.8 462.47L236.92 477.28L237.04 469.32L237.16 462.47L237.28 471.58L237.4 462.47L237.51 467.33L237.63 474.19L237.75 477.28L237.87 465.55L237.99 477.28L238.11 474.19L238.23 492.77L238.35 477.28L238.47 481.05L238.59 463.94L238.7 469.32L238.82 469.32L238.94 474.19L239.06 471.58L239.18 477.28L239.3 477.28L239.42 477.28L239.54 477.28L239.66 485.92L239.78 471.58L239.9 477.28L240.01 469.32L240.13 469.32L240.25 481.05L240.37 481.05L240.49 467.33L240.61 477.28L240.73 469.32L240.85 474.19L240.97 481.05L241.09 474.19L241.2 474.19L241.32 467.33L241.44 467.33L241.56 471.58L241.68 469.32L241.8 459.86L241.92 474.19L242.04 492.77L242.16 481.05L242.28 469.32L242.39 465.55L242.51 474.19L242.63 477.28L242.75 477.28L242.87 467.33L242.99 477.28L243.11 469.32L243.23 469.32L243.35 471.58L243.47 465.55L243.58 481.05L243.7 485.92L243.82 481.05L243.94 474.19L244.06 481.05L244.18 471.58L244.3 471.58L244.42 463.94L244.54 474.19L244.66 477.28L244.77 477.28L244.89 474.19L245.01 485.92L245.13 485.92L245.25 467.33L245.37 474.19L245.49 467.33L245.61 463.94L245.73 477.28L245.85 477.28L245.96 469.32L246.08 474.19L246.2 477.28L246.32 477.28L246.44 462.47L246.56 474.19L246.68 485.92L246.8 471.58L246.92 465.55L247.04 477.28L247.16 492.77L247.27 469.32L247.39 471.58L247.51 477.28L247.63 474.19L247.75 469.32L247.87 474.19L247.99 471.58L248.11 471.58L248.23 481.05L248.35 477.28L248.46 465.55L248.58 481.05L248.7 474.19L248.82 467.33L248.94 474.19L249.06 465.55L249.18 485.92L249.3 474.19L249.42 469.32L249.54 465.55L249.65 474.19L249.77 474.19L249.89 477.28L250.01 469.32L250.13 481.05L250.25 492.77L250.37 471.58L250.49 465.55L250.61 477.28L250.73 477.28L250.84 504.5L250.96 474.19L251.08 474.19L251.2 469.32L251.32 477.28L251.44 471.58L251.56 477.28L251.68 474.19L251.8 465.55L251.92 492.77L252.03 474.19L252.15 477.28L252.27 465.55L252.39 492.77L252.51 477.28L252.63 477.28L252.75 471.58L252.87 477.28L252.99 461.11L253.11 477.28L253.22 492.77L253.34 459.86L253.46 471.58L253.58 465.55L253.7 481.05L253.82 481.05L253.94 469.32L254.06 471.58L254.18 481.05L254.3 477.28L254.42 461.11L254.53 477.28L254.65 465.55L254.77 474.19L254.89 492.77L255.01 485.92L255.13 474.19L255.25 477.28L255.37 469.32L255.49 477.28L255.61 474.19L255.72 465.55L255.84 469.32L255.96 467.33L256.08 463.94L256.2 469.32L256.32 469.32L256.44 469.32L256.56 477.28L256.68 492.77L256.8 471.58L256.91 469.32L257.03 504.5L257.15 477.28L257.27 477.28L257.39 485.92L257.51 474.19L257.63 477.28L257.75 481.05L257.87 465.55L257.99 467.33L258.1 463.94L258.22 485.92L258.34 477.28L258.46 492.77L258.58 471.58L258.7 474.19L258.82 492.77L258.94 477.28L259.06 485.92L259.18 465.55L259.29 481.05L259.41 474.19L259.53 474.19L259.65 492.77L259.77 467.33L259.89 471.58L260.01 471.58L260.13 485.92L260.25 477.28L260.37 504.5L260.48 467.33L260.6 469.32L260.72 481.05L260.84 469.32L260.96 474.19L261.08 467.33L261.2 467.33L261.32 469.32L261.44 492.77L261.56 474.19L261.68 471.58L261.79 471.58L261.91 469.32L262.03 467.33L262.15 471.58L262.27 485.92L262.39 471.58L262.51 474.19L262.63 477.28L262.75 465.55L262.87 471.58L262.98 463.94L263.1 463.94L263.22 469.32L263.34 469.32L263.46 474.19L263.58 474.19L263.7 471.58L263.82 477.28L263.94 477.28L264.06 469.32L264.17 467.33L264.29 485.92L264.41 474.19L264.53 467.33L264.65 477.28L264.77 477.28L264.89 471.58L265.01 477.28L265.13 467.33L265.25 474.19L265.36 469.32L265.48 471.58L265.6 481.05L265.72 467.33L265.84 471.58L265.96 469.32L266.08 474.19L266.2 474.19L266.32 469.32L266.44 471.58L266.55 477.28L266.67 485.92L266.79 477.28L266.91 477.28L267.03 481.05L267.15 469.32L267.27 481.05L267.39 467.33L267.51 504.5L267.63 467.33L267.74 485.92L267.86 463.94L267.98 485.92L268.1 474.19L268.22 485.92L268.34 471.58L268.46 492.77L268.58 469.32L268.7 465.55L268.82 469.32L268.94 471.58L269.05 467.33L269.17 481.05L269.29 485.92L269.41 477.28L269.53 469.32L269.65 485.92L269.77 467.33L269.89 481.05L270.01 471.58L270.13 471.58L270.24 504.5L270.36 474.19L270.48 474.19L270.6 477.28L270.72 469.32L270.84 474.19L270.96 467.33L271.08 477.28L271.2 467.33L271.32 469.32L271.43 481.05L271.55 492.77L271.67 467.33L271.79 471.58L271.91 485.92L272.03 492.77L272.15 471.58L272.27 471.58L272.39 477.28L272.51 477.28L272.62 477.28L272.74 471.58L272.86 481.05L272.98 471.58L273.1 471.58L273.22 471.58L273.34 504.5L273.46 471.58L273.58 485.92L273.7 471.58L273.81 474.19L273.93 485.92L274.05 474.19L274.17 469.32L274.29 477.28L274.41 485.92L274.53 485.92L274.65 485.92L274.77 467.33L274.89 477.28L275 471.58L275.12 481.05L275.24 474.19L275.36 485.92L275.48 485.92L275.6 469.32L275.72 474.19L275.84 471.58L275.96 477.28L276.08 477.28L276.2 477.28L276.31 481.05L276.43 471.58L276.55 477.28L276.67 485.92L276.79 471.58L276.91 477.28L277.03 467.33L277.15 471.58L277.27 474.19L277.39 474.19L277.5 471.58L277.62 469.32L277.74 477.28L277.86 467.33L277.98 469.32L278.1 477.28L278.22 463.94L278.34 469.32L278.46 471.58L278.58 477.28L278.69 481.05L278.81 474.19L278.93 467.33L279.05 481.05L279.17 481.05L279.29 485.92L279.41 471.58L279.53 474.19L279.65 474.19L279.77 492.77L279.88 471.58L280 471.58L280.12 485.92L280.24 463.94L280.36 471.58L280.48 467.33L280.6 471.58L280.72 485.92L280.84 477.28L280.96 469.32L281.07 477.28L281.19 467.33L281.31 474.19L281.43 474.19L281.55 474.19L281.67 471.58L281.79 463.94L281.91 465.55L282.03 463.94L282.15 492.77L282.26 477.28L282.38 481.05L282.5 504.5L282.62 471.58L282.74 477.28L282.86 467.33L282.98 481.05L283.1 469.32L283.22 471.58L283.34 485.92L283.46 477.28L283.57 471.58L283.69 465.55L283.81 463.94L283.93 481.05L284.05 481.05L284.17 471.58L284.29 481.05L284.41 474.19L284.53 463.94L284.65 492.77L284.76 469.32L284.88 471.58L285 471.58L285.12 459.86L285.24 477.28L285.36 467.33L285.48 477.28L285.6 492.77L285.72 474.19L285.84 474.19L285.95 469.32L286.07 471.58L286.19 485.92L286.31 474.19L286.43 477.28L286.55 467.33L286.67 492.77L286.79 481.05L286.91 477.28L287.03 474.19L287.14 474.19L287.26 471.58L287.38 477.28L287.5 471.58L287.62 481.05L287.74 481.05L287.86 467.33L287.98 477.28L288.1 463.94L288.22 474.19L288.33 485.92L288.45 481.05L288.57 474.19L288.69 477.28L288.81 471.58L288.93 471.58L289.05 481.05L289.17 474.19L289.29 504.5L289.41 485.92L289.52 469.32L289.64 474.19L289.76 474.19L289.88 481.05L290 474.19L290.12 474.19L290.24 467.33L290.36 469.32L290.48 477.28L290.6 485.92L290.72 474.19L290.83 471.58L290.95 469.32L291.07 474.19L291.19 504.5L291.31 477.28L291.43 467.33L291.55 469.32L291.67 492.77L291.79 471.58L291.91 474.19L292.02 474.19L292.14 469.32L292.26 471.58L292.38 471.58L292.5 477.28L292.62 477.28L292.74 465.55L292.86 463.94L292.98 469.32L293.1 492.77L293.21 481.05L293.33 471.58L293.45 481.05L293.57 492.77L293.69 474.19L293.81 477.28L293.93 469.32L294.05 481.05L294.17 467.33L294.29 469.32L294.4 469.32L294.52 481.05L294.64 474.19L294.76 469.32L294.88 474.19L295 481.05L295.12 469.32L295.24 481.05L295.36 474.19L295.48 463.94L295.59 481.05L295.71 481.05L295.83 477.28L295.95 474.19L296.07 474.19L296.19 481.05L296.31 477.28L296.43 492.77L296.55 477.28L296.67 465.55L296.79 474.19L296.9 481.05L297.02 474.19L297.14 471.58L297.26 477.28L297.38 474.19L297.5 467.33L297.62 474.19L297.74 474.19L297.86 469.32L297.98 471.58L298.09 481.05L298.21 477.28L298.33 469.32L298.45 485.92L298.57 463.94L298.69 492.77L298.81 492.77L298.93 467.33L299.05 474.19L299.17 481.05L299.28 467.33L299.4 477.28L299.52 467.33L299.64 471.58L299.76 485.92L299.88 471.58L300 469.32L300.12 481.05L300.24 477.28L300.36 471.58L300.47 477.28L300.59 469.32L300.71 481.05L300.83 485.92L300.95 471.58L301.07 469.32L301.19 477.28L301.31 471.58L301.43 474.19L301.55 481.05L301.66 481.05L301.78 474.19L301.9 485.92L302.02 465.55L302.14 477.28L302.26 471.58L302.38 471.58L302.5 471.58L302.62 471.58L302.74 477.28L302.85 474.19L302.97 474.19L303.09 465.55L303.21 504.5L303.33 474.19L303.45 474.19L303.57 477.28L303.69 474.19L303.81 481.05L303.93 492.77L304.05 469.32L304.16 471.58L304.28 485.92L304.4 474.19L304.52 481.05L304.64 481.05L304.76 485.92L304.88 477.28L305 474.19L305.12 471.58L305.24 485.92L305.35 471.58L305.47 485.92L305.59 504.5L305.71 465.55L305.83 481.05L305.95 492.77L306.07 469.32L306.19 477.28L306.31 467.33L306.43 471.58L306.54 481.05L306.66 471.58L306.78 474.19L306.9 474.19L307.02 481.05L307.14 504.5L307.26 474.19L307.38 471.58L307.5 481.05L307.62 463.94L307.73 492.77L307.85 465.55L307.97 474.19L308.09 471.58L308.21 477.28L308.33 477.28L308.45 467.33L308.57 471.58L308.69 477.28L308.81 463.94L308.92 469.32L309.04 467.33L309.16 477.28L309.28 481.05L309.4 481.05L309.52 462.47L309.64 492.77L309.76 477.28L309.88 477.28L310 481.05L310.11 469.32L310.23 469.32L310.35 474.19L310.47 477.28L310.59 492.77L310.71 481.05L310.83 474.19L310.95 481.05L311.07 471.58L311.19 463.94L311.31 474.19L311.42 477.28L311.54 471.58L311.66 469.32L311.78 477.28L311.9 471.58L312.02 471.58L312.14 471.58L312.26 474.19L312.38 477.28L312.5 477.28L312.61 463.94L312.73 481.05L312.85 465.55L312.97 463.94L313.09 474.19L313.21 492.77L313.33 477.28L313.45 467.33L313.57 467.33L313.69 465.55L313.8 477.28L313.92 481.05L314.04 485.92L314.16 469.32L314.28 481.05L314.4 474.19L314.52 465.55L314.64 471.58L314.76 481.05L314.88 467.33L314.99 485.92L315.11 474.19L315.23 485.92L315.35 477.28L315.47 481.05L315.59 471.58L315.71 481.05L315.83 469.32L315.95 469.32L316.07 485.92L316.18 467.33L316.3 481.05L316.42 465.55L316.54 459.86L316.66 469.32L316.78 461.11L316.9 471.58L317.02 492.77L317.14 477.28L317.26 462.47L317.37 469.32L317.49 474.19L317.61 485.92L317.73 492.77L317.85 481.05L317.97 467.33L318.09 467.33L318.21 477.28L318.33 471.58L318.45 471.58L318.57 477.28L318.68 477.28L318.8 467.33L318.92 492.77L319.04 477.28L319.16 469.32L319.28 485.92L319.4 465.55L319.52 467.33L319.64 471.58L319.76 474.19L319.87 474.19L319.99 504.5L320.11 477.28L320.23 477.28L320.35 467.33L320.47 469.32L320.59 481.05L320.71 471.58L320.83 471.58L320.95 481.05L321.06 504.5L321.18 477.28L321.3 471.58L321.42 474.19L321.54 469.32L321.66 485.92L321.78 463.94L321.9 463.94L322.02 481.05L322.14 481.05L322.25 474.19L322.37 477.28L322.49 477.28L322.61 467.33L322.73 481.05L322.85 485.92L322.97 481.05L323.09 471.58L323.21 471.58L323.33 477.28L323.44 474.19L323.56 492.77L323.68 474.19L323.8 469.32L323.92 477.28L324.04 469.32L324.16 474.19L324.28 467.33L324.4 469.32L324.52 469.32L324.63 471.58L324.75 471.58L324.87 481.05L324.99 492.77L325.11 477.28L325.23 474.19L325.35 474.19L325.47 474.19L325.59 485.92L325.71 471.58L325.83 467.33L325.94 477.28L326.06 467.33L326.18 485.92L326.3 474.19L326.42 469.32L326.54 474.19L326.66 477.28L326.78 474.19L326.9 465.55L327.02 469.32L327.13 469.32L327.25 477.28L327.37 474.19L327.49 481.05L327.61 467.33L327.73 477.28L327.85 471.58L327.97 492.77L328.09 467.33L328.21 485.92L328.32 469.32L328.44 477.28L328.56 485.92L328.68 485.92L328.8 469.32L328.92 481.05L329.04 474.19L329.16 474.19L329.28 477.28L329.4 481.05L329.51 471.58L329.63 477.28L329.75 477.28L329.87 481.05L329.99 469.32L330.11 477.28L330.23 471.58L330.35 477.28L330.47 463.94L330.59 469.32L330.7 465.55L330.82 481.05L330.94 485.92L331.06 469.32L331.18 474.19L331.3 471.58L331.42 469.32L331.54 471.58L331.66 462.47L331.78 481.05L331.89 474.19L332.01 471.58L332.13 463.94L332.25 463.94L332.37 469.32L332.49 461.11L332.61 474.19L332.73 469.32L332.85 465.55L332.97 463.94L333.09 492.77L333.2 471.58L333.32 469.32L333.44 474.19L333.56 467.33L333.68 465.55L333.8 461.11L333.92 459.86L334.04 465.55L334.16 474.19L334.28 474.19L334.39 481.05L334.51 469.32L334.63 471.58L334.75 462.47L334.87 471.58L334.99 463.94L335.11 462.47L335.23 467.33L335.35 467.33L335.47 461.11L335.58 481.05L335.7 474.19L335.82 465.55L335.94 461.11L336.06 459.86L336.18 467.33L336.3 458.69L336.42 465.55L336.54 471.58L336.66 463.94L336.77 462.47L336.89 462.47L337.01 467.33L337.13 492.77L337.25 471.58L337.37 469.32L337.49 456.57L337.61 465.55L337.73 463.94L337.85 469.32L337.96 461.11L338.08 467.33L338.2 459.86L338.32 461.11L338.44 471.58L338.56 458.69L338.68 458.69L338.8 467.33L338.92 481.05L339.04 462.47L339.15 455.61L339.27 471.58L339.39 465.55L339.51 465.55L339.63 465.55L339.75 461.11L339.87 463.94L339.99 467.33L340.11 459.86L340.23 461.11L340.35 465.55L340.46 454.69L340.58 462.47L340.7 461.11L340.82 461.11L340.94 451.46L341.06 457.6L341.18 471.58L341.3 463.94L341.42 457.6L341.54 453L341.65 458.69L341.77 461.11L341.89 465.55L342.01 463.94L342.13 461.11L342.25 457.6L342.37 461.11L342.49 454.69L342.61 459.86L342.73 463.94L342.84 455.61L342.96 481.05L343.08 454.69L343.2 462.47L343.32 461.11L343.44 458.69L343.56 454.69L343.68 455.61L343.8 455.61L343.92 463.94L344.03 455.61L344.15 457.6L344.27 459.86L344.39 457.6L344.51 456.57L344.63 458.69L344.75 449.39L344.87 456.57L344.99 453L345.11 455.61L345.22 448.13L345.34 453.82L345.46 459.86L345.58 452.21L345.7 450.05L345.82 457.6L345.94 448.75L346.06 453.82L346.18 452.21L346.3 453L346.41 449.39L346.53 449.39L346.65 453L346.77 445.35L346.89 444.36L347.01 443.88L347.13 443.42L347.25 449.39L347.37 439.74L347.49 439.02L347.61 434.96L347.72 440.88L347.84 434.69L347.96 434.42L348.08 434.42L348.2 431.47L348.32 431.47L348.44 431.47L348.56 426.94L348.68 428.38L348.8 425.77L348.91 423.24L349.03 419.63L349.15 419.97L349.27 416.94L349.39 415.48L349.51 414.21L349.63 409.86L349.75 408.53L349.87 406.05L349.99 403.45L350.1 402.16L350.22 399.65L350.34 397.49L350.46 396.04L350.58 393.68L350.7 392.72L350.82 389.89L350.94 387.72L351.06 385.82L351.18 384.78L351.29 383.71L351.41 382.41L351.53 382.08L351.65 379.68L351.77 378.08L351.89 377.07L352.01 375.82L352.13 374.64L352.25 373.69L352.37 372.14L352.48 371.31L352.6 369.72L352.72 371.08L352.84 371.75L352.96 371.99L353.08 373.82L353.2 374.89L353.32 375.82L353.44 376.62L353.56 378.58L353.67 378.63L353.79 379.1L353.91 381.69L354.03 382.8L354.15 383.78L354.27 386.11L354.39 388.41L354.51 389.99L354.63 391.15L354.75 393.11L354.87 394.03L354.98 397.89L355.1 397.64L355.22 400.82L355.34 401.2L355.46 406.4L355.58 407.46L355.7 406.82L355.82 410.31L355.94 410.83L356.06 413.42L356.17 412.22L356.29 414.37L356.41 417.23L356.53 416.29L356.65 418.44L356.77 419.85L356.89 425.61L357.01 422.69L357.13 427.29L357.25 426.43L357.36 426.6L357.48 428.38L357.6 431.24L357.72 431.69L357.84 430.59L357.96 428.76L358.08 430.16L358.2 429.55L358.32 428.96L358.44 429.35L358.55 423.66L358.67 419.97L358.79 421.52L358.91 419.52L359.03 417.43L359.15 414.96L359.27 416.85L359.39 409.74L359.51 405.31L359.63 400.49L359.74 396.38L359.86 391.42L359.98 386.1L360.1 383.4L360.22 379.18L360.34 373.44L360.46 368.92L360.58 363.49L360.7 358.57L360.82 353.28L360.93 347.76L361.05 342.66L361.17 337.36L361.29 332.08L361.41 326.79L361.53 321.48L361.65 316.26L361.77 311.17L361.89 305.99L362.01 300.83L362.13 295.64L362.24 300.81L362.36 305.99L362.48 311.1L362.6 316.34L362.72 321.49L362.84 327.32L362.96 333.53L363.08 339.21L363.2 345.41L363.32 351.31L363.43 357.49L363.55 363.03L363.67 369.03L363.79 375.02L363.91 382.24L364.03 388.36L364.15 394.58L364.27 402.98L364.39 408.59L364.51 409.12L364.62 415.04L364.74 416.29L364.86 421.78L364.98 422.83L365.1 425.61L365.22 427.12L365.34 431.24L365.46 433.63L365.58 438.33L365.7 439.37L365.81 434.96L365.93 437.02L366.05 439.37L366.17 443.42L366.29 441.27L366.41 440.49L366.53 443.88L366.65 454.69L366.77 452.21L366.89 444.85L367 453.82L367.12 453.82L367.24 443.42L367.36 450.74L367.48 455.61L367.6 458.69L367.72 461.11L367.84 457.6L367.96 456.57L368.08 455.61L368.2 457.6L368.31 457.6L368.43 467.33L368.55 456.57L368.67 455.61L368.79 471.58L368.91 457.6L369.03 454.69L369.15 469.32L369.27 467.33L369.39 465.55L369.5 465.55L369.62 467.33L369.74 462.47L369.86 462.47L369.98 474.19L370.1 459.86L370.22 467.33L370.34 474.19L370.46 477.28L370.58 469.32L370.69 467.33L370.81 467.33L370.93 465.55L371.05 481.05L371.17 467.33L371.29 462.47L371.41 477.28L371.53 467.33L371.65 469.32L371.77 477.28L371.88 467.33L372 477.28L372.12 474.19L372.24 465.55L372.36 467.33L372.48 474.19L372.6 481.05L372.72 474.19L372.84 469.32L372.96 467.33L373.07 469.32L373.19 474.19L373.31 471.58L373.43 467.33L373.55 485.92L373.67 471.58L373.79 465.55L373.91 474.19L374.03 471.58L374.15 467.33L374.26 474.19L374.38 462.47L374.5 485.92L374.62 477.28L374.74 485.92L374.86 463.94L374.98 477.28L375.1 462.47L375.22 467.33L375.34 474.19L375.46 465.55L375.57 477.28L375.69 465.55L375.81 492.77L375.93 469.32L376.05 467.33L376.17 463.94L376.29 474.19L376.41 469.32L376.53 469.32L376.65 465.55L376.76 471.58L376.88 471.58L377 492.77L377.12 469.32L377.24 477.28L377.36 457.6L377.48 465.55L377.6 485.92L377.72 485.92L377.84 477.28L377.95 471.58L378.07 485.92L378.19 504.5L378.31 469.32L378.43 471.58L378.55 469.32L378.67 471.58L378.79 485.92L378.91 471.58L379.03 481.05L379.14 477.28L379.26 492.77L379.38 471.58L379.5 477.28L379.62 462.47L379.74 469.32L379.86 477.28L379.98 485.92L380.1 474.19L380.22 469.32L380.33 471.58L380.45 477.28L380.57 467.33L380.69 469.32L380.81 474.19L380.93 467.33L381.05 469.32L381.17 471.58L381.29 471.58L381.41 474.19L381.52 459.86L381.64 471.58L381.76 471.58L381.88 481.05L382 469.32L382.12 474.19L382.24 474.19L382.36 471.58L382.48 465.55L382.6 477.28L382.72 467.33L382.83 471.58L382.95 477.28L383.07 504.5L383.19 477.28L383.31 469.32L383.43 474.19L383.55 481.05L383.67 474.19L383.79 477.28L383.91 471.58L384.02 471.58L384.14 481.05L384.26 481.05L384.38 485.92L384.5 477.28L384.62 481.05L384.74 477.28L384.86 481.05L384.98 492.77L385.1 469.32L385.21 467.33L385.33 485.92L385.45 481.05L385.57 485.92L385.69 465.55L385.81 485.92L385.93 462.47L386.05 469.32L386.17 467.33L386.29 467.33L386.4 474.19L386.52 469.32L386.64 477.28L386.76 469.32L386.88 485.92L387 474.19L387.12 465.55L387.24 477.28L387.36 477.28L387.48 467.33L387.59 492.77L387.71 469.32L387.83 492.77L387.95 481.05L388.07 471.58L388.19 492.77L388.31 469.32L388.43 471.58L388.55 471.58L388.67 474.19L388.78 474.19L388.9 469.32L389.02 474.19L389.14 504.5L389.26 474.19L389.38 474.19L389.5 469.32L389.62 504.5L389.74 471.58L389.86 481.05L389.98 492.77L390.09 485.92L390.21 477.28L390.33 481.05L390.45 481.05L390.57 481.05L390.69 474.19L390.81 492.77L390.93 469.32L391.05 471.58L391.17 485.92L391.28 474.19L391.4 492.77L391.52 492.77L391.64 492.77L391.76 463.94L391.88 481.05L392 471.58L392.12 485.92L392.24 467.33L392.36 474.19L392.47 485.92L392.59 477.28L392.71 481.05L392.83 471.58L392.95 481.05L393.07 459.86L393.19 474.19L393.31 481.05L393.43 504.5L393.55 492.77L393.66 477.28L393.78 474.19L393.9 474.19L394.02 481.05L394.14 474.19L394.26 481.05L394.38 474.19L394.5 471.58L394.62 492.77L394.74 469.32L394.85 465.55L394.97 477.28L395.09 471.58L395.21 492.77L395.33 471.58L395.45 492.77L395.57 477.28L395.69 481.05L395.81 504.5L395.93 481.05L396.04 492.77L396.16 471.58L396.28 481.05L396.4 477.28L396.52 485.92L396.64 463.94L396.76 467.33L396.88 477.28L397 492.77L397.12 481.05L397.24 474.19L397.35 474.19L397.47 474.19L397.59 481.05L397.71 465.55L397.83 485.92L397.95 467.33L398.07 467.33L398.19 492.77L398.31 471.58L398.43 474.19L398.54 465.55L398.66 485.92L398.78 492.77L398.9 474.19L399.02 481.05L399.14 477.28L399.26 471.58L399.38 477.28L399.5 477.28L399.62 481.05L399.73 471.58L399.85 471.58L399.97 481.05L400.09 477.28L400.21 481.05L400.33 504.5L400.45 492.77L400.57 504.5L400.69 469.32L400.81 467.33L400.92 477.28L401.04 485.92L401.16 504.5L401.28 474.19L401.4 471.58L401.52 481.05L401.64 469.32L401.76 492.77L401.88 471.58L402 474.19L402.11 469.32L402.23 485.92L402.35 485.92L402.47 504.5L402.59 504.5L402.71 481.05L402.83 471.58L402.95 467.33L403.07 469.32L403.19 481.05L403.3 481.05L403.42 477.28L403.54 492.77L403.66 474.19L403.78 471.58L403.9 492.77" stroke="#000" stroke-width="1.25" fill="none" stroke-linejoin="round"/>
<text x="71.5" y="384.9" font-family='"Liberation Sans", sans-serif' font-size="13.0" fill="#1d1dd6" stroke="#1d1dd6" stroke-width="0.28" transform="rotate(-90 71.5 384.9)">BM-SFO(0 1 0)<tspan font-size="7.8" dy="4.9">pc</tspan></text>
<text x="95.4" y="359.8" font-family='"Liberation Sans", sans-serif' font-size="13.0" fill="#111" stroke="#111" stroke-width="0.28" transform="rotate(-90 95.4 359.8)">STO(0 0 1)</text>
<text x="214.5" y="435.4" font-family='"Liberation Sans", sans-serif' font-size="13.0" fill="#1d1dd6" stroke="#1d1dd6" stroke-width="0.28" transform="rotate(-90 214.5 435.4)">BM-SFO(0 3/2 0)<tspan font-size="7.8" dy="4.9">pc</tspan></text>
<text x="346" y="381.2" font-family='"Liberation Sans", sans-serif' font-size="13.0" fill="#1d1dd6" stroke="#1d1dd6" stroke-width="0.28" transform="rotate(-90 346 381.2)">BM-SFO(0 2 0)<tspan font-size="7.8" dy="4.9">pc</tspan></text>
<text x="376.6" y="356.2" font-family='"Liberation Sans", sans-serif' font-size="13.0" fill="#111" stroke="#111" stroke-width="0.28" transform="rotate(-90 376.6 356.2)">STO(0 0 2)</text>
<text x="-0.3" y="312.3" font-family='"Liberation Sans", sans-serif' font-size="32.5" text-anchor="start" fill="#000" font-weight="bold">c</text>
<rect x="471.4" y="282.5" width="178.1" height="233.6" fill="none" stroke="#111" stroke-width="1.35"/>
<path d="M471.4 516.1L471.4 511.3M471.4 282.5L471.4 287.3M515.92 516.1L515.92 513.3M515.92 282.5L515.92 285.3M560.45 516.1L560.45 511.3M560.45 282.5L560.45 287.3M604.98 516.1L604.98 513.3M604.98 282.5L604.98 285.3M649.5 516.1L649.5 511.3M649.5 282.5L649.5 287.3M471.4 499.41L476.2 499.41M649.5 499.41L644.7 499.41M471.4 482.73L474.2 482.73M649.5 482.73L646.7 482.73M471.4 466.04L476.2 466.04M649.5 466.04L644.7 466.04M471.4 449.36L474.2 449.36M649.5 449.36L646.7 449.36M471.4 432.67L476.2 432.67M649.5 432.67L644.7 432.67M471.4 415.99L474.2 415.99M649.5 415.99L646.7 415.99M471.4 399.3L476.2 399.3M649.5 399.3L644.7 399.3M471.4 382.61L474.2 382.61M649.5 382.61L646.7 382.61M471.4 365.93L476.2 365.93M649.5 365.93L644.7 365.93M471.4 349.24L474.2 349.24M649.5 349.24L646.7 349.24M471.4 332.56L476.2 332.56M649.5 332.56L644.7 332.56M471.4 315.87L474.2 315.87M649.5 315.87L646.7 315.87M471.4 299.19L476.2 299.19M649.5 299.19L644.7 299.19" stroke="#111" stroke-width="1.0" fill="none"/>
<text x="471.4" y="531.8" font-family='"Liberation Sans", sans-serif' font-size="14.2" text-anchor="middle" fill="#111" font-weight="normal" stroke="#111" stroke-width="0.28">11.2</text>
<text x="560.45" y="531.8" font-family='"Liberation Sans", sans-serif' font-size="14.2" text-anchor="middle" fill="#111" font-weight="normal" stroke="#111" stroke-width="0.28">11.4</text>
<text x="649.5" y="531.8" font-family='"Liberation Sans", sans-serif' font-size="14.2" text-anchor="middle" fill="#111" font-weight="normal" stroke="#111" stroke-width="0.28">11.6</text>
<text x="468.7" y="503.31" font-family='"Liberation Sans", sans-serif' font-size="14.2" text-anchor="end" fill="#111" font-weight="normal" stroke="#111" stroke-width="0.28">0</text>
<text x="468.7" y="469.94" font-family='"Liberation Sans", sans-serif' font-size="14.2" text-anchor="end" fill="#111" font-weight="normal" stroke="#111" stroke-width="0.28">500</text>
<text x="468.7" y="436.57" font-family='"Liberation Sans", sans-serif' font-size="14.2" text-anchor="end" fill="#111" font-weight="normal" stroke="#111" stroke-width="0.28">1000</text>
<text x="468.7" y="403.2" font-family='"Liberation Sans", sans-serif' font-size="14.2" text-anchor="end" fill="#111" font-weight="normal" stroke="#111" stroke-width="0.28">1500</text>
<text x="468.7" y="369.83" font-family='"Liberation Sans", sans-serif' font-size="14.2" text-anchor="end" fill="#111" font-weight="normal" stroke="#111" stroke-width="0.28">2000</text>
<text x="468.7" y="336.46" font-family='"Liberation Sans", sans-serif' font-size="14.2" text-anchor="end" fill="#111" font-weight="normal" stroke="#111" stroke-width="0.28">2500</text>
<text x="468.7" y="303.09" font-family='"Liberation Sans", sans-serif' font-size="14.2" text-anchor="end" fill="#111" font-weight="normal" stroke="#111" stroke-width="0.28">3000</text>
<text x="432.3" y="402.2" font-family='"Liberation Sans", sans-serif' font-size="14.05" text-anchor="middle" fill="#111" font-weight="normal" transform="rotate(-90 432.3 402.2)" stroke="#111" stroke-width="0.28">Intensity (arb. units)</text>
<text x="560.45" y="545" font-family='"Liberation Sans", sans-serif' font-size="14" text-anchor="middle" fill="#111" stroke="#111" stroke-width="0.28"><tspan font-family='"Liberation Serif", "DejaVu Serif", serif' font-size="12.5">ω</tspan> (degree)</text>
<path d="M471.4 497.4L471.4 497.6L472.3 497.03L473.2 496.7L473.4 497L474.1 496.77L475 496.57L475 496.2L475.9 496.93L476.8 497.56L477 497.6L477.7 497.79L478.6 497.65L479.5 497.38L480.4 497.62L481.3 498.4L482 498.4L482.2 498.98L483.1 499.29L484 499.09L484.9 498.54L485.8 498.5L486.7 498.7L487.6 498.75L488.5 498.81L489.4 498.63L490.3 498.26L491.2 498.42L492.1 498.97L493 498.79L493.9 498.52L494.8 498.59L495.7 498.52L496.6 498.48L497.5 498.42L498.4 498.41L499.3 498.09L500 498.6L500.2 497.8L501.1 497.9L502 498.1L502.9 498.47L503.8 498.66L504.7 498.64L505.6 498.5L506.5 498.34L507.4 498.52L508.3 498.67L509.2 498.34L510.1 497.93L511 497.87L511.9 497.96L512.8 498.28L513.7 498.51L514.6 497.98L515 498.2L515.5 497.62L516.4 497.96L517.3 498.17L518.2 497.88L519.1 497.51L520 497.46L520 497.9L520.9 497.66L521.8 497.68L522.7 497.27L523.6 497.01L524.5 496.98L525.4 497.03L525.8 496.9L526.3 496.9L527.2 497.02L528.1 497.66L528.7 497.2L529 497.5L529.9 496.8L530.8 496.56L531.7 496.63L532.6 496.79L533.5 496.8L534.4 496.68L534.5 496.5L535.3 496.06L536.2 495.24L537.1 494.76L538 494.6L538.9 494.57L538.9 494.6L539.8 493.64L540.7 492.4L541.6 491.9L541.8 491.7L542.5 490.3L543.4 488.5L544.3 486.7L544.7 485.9L545.2 484.33L546.1 481.5L546.8 479.3L547 477.95L547.9 471.89L548.3 469.2L548.8 462.65L549.3 456.1L549.7 449.66L550.2 441.6L550.6 436.96L551.2 430L551.5 425.53L552.3 413.6L552.4 412.48L553.3 402.36L554.2 392.25L554.4 390L555.1 379.62L556 366.27L556.8 354.4L556.9 352.6L557.8 336.44L558.7 320.28L559.2 311.3L559.6 317.05L560.5 329.98L561.4 342.91L562.2 354.4L562.3 356.49L563.2 375.34L563.9 390L564.1 392.62L565 404.42L565.7 413.6L565.9 416.88L566.7 430L566.8 431.61L567.6 444.5L567.7 445.95L568.6 459L568.6 459L569.5 472.05L569.6 473.5L570.4 482.23L570.8 486.6L571.3 488.43L572 491L572.2 491.18L573.1 491.9L574 492.68L574.9 493.38L575.2 493.9L575.8 493.94L576.7 494.11L577.6 494.61L578.5 495.34L579.4 495.38L580.3 495.6L581 496L581.2 495.96L582.1 495.53L583 495.68L583.9 496.32L584.8 496.31L585.7 496.47L586.6 496.75L586.8 496.5L587.5 496.68L588.4 496.71L589.3 496.8L590.2 497.02L591.1 497.35L592 497.4L592.9 497.34L593.8 497.27L594.7 496.96L595.6 496.71L596.5 496.94L597.4 497.63L598.3 497.99L599.2 497.41L600 497.5L600.1 496.85L601 497.15L601.9 497.66L602.8 497.75L603.7 497.82L604.6 498.08L605.5 497.88L606.4 497.48L607.3 497.52L608.2 497.61L609.1 497.9L610 498.46L610.9 498.65L611.8 498.24L612.7 497.76L613.6 497.78L614.3 497.9L614.5 497.87L615.4 497.71L616.3 497.9L617.2 498.32L618.1 498.36L619 498.18L619.9 498.38L620.8 498.65L621.7 498.21L622.6 497.77L623.5 498.08L624.4 498.32L625.3 498.22L626.2 498.07L627.1 498.12L628 498.62L628.9 498.67L629.8 498.41L630.7 498.51L631.6 498.48L632.5 497.93L633.4 497.25L634.3 497.69L635.2 498.68L636.1 498.63L637 498.57L637.9 498.84L638.8 498.96L639.7 499L640.6 498.85L641.5 498.62L642.4 498.5L643.3 498.98L644.2 499.37L645.1 499.3L646 499.26L646.9 499.36L647.8 499.58L648.7 499.59L649.5 499.2" stroke="#000" stroke-width="1.1" fill="none" stroke-linejoin="round"/>
<text x="525.9" y="304.6" font-family='"Liberation Sans", sans-serif' font-size="16.1" fill="#111" stroke="#111" stroke-width="0.28" letter-spacing="0.3">BM-SFO(010)<tspan font-size="10.5" dy="3.4">pc</tspan></text>
<text x="549.4" y="405.4" font-family='"Liberation Sans", sans-serif' font-size="12.3" text-anchor="end" fill="#111" font-weight="normal" textLength="38.6" lengthAdjust="spacingAndGlyphs" stroke="#111" stroke-width="0.15">FWHM</text>
<text x="569.4" y="405.4" font-family='"Liberation Sans", sans-serif' font-size="12.4" fill="#111" stroke="#111" stroke-width="0.15">0.02<tspan font-size="8.6" dy="-6.0">o</tspan></text>
<path d="M528.7 413L549.5 413M544.1 410.3L549.5 413L544.1 415.7" stroke="#111" stroke-width="1.0" fill="none" stroke-linejoin="miter"/>
<path d="M588.6 413L568 413M573.4 410.3L568 413L573.4 415.7" stroke="#111" stroke-width="1.0" fill="none" stroke-linejoin="miter"/>
<text x="411.4" y="312.8" font-family='"Liberation Sans", sans-serif' font-size="32.5" text-anchor="start" fill="#000" font-weight="bold">d</text>
</svg>
</body>
</html>
